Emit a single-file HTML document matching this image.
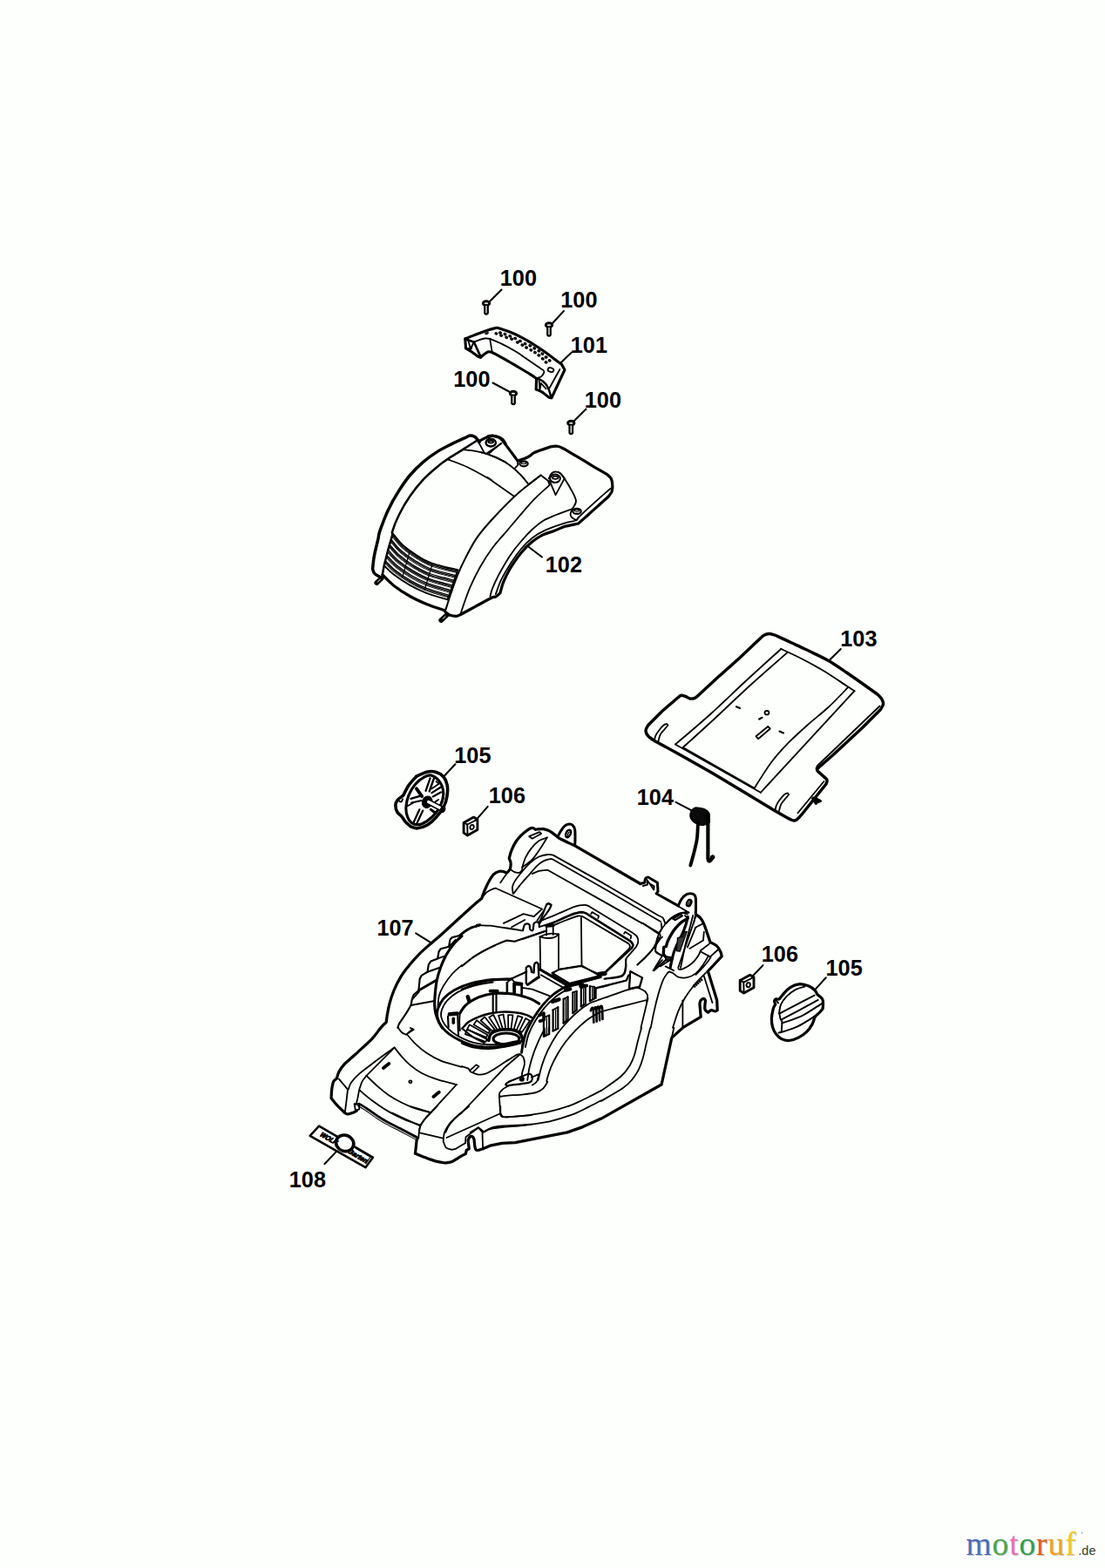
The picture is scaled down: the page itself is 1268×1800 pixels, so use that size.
<!DOCTYPE html>
<html><head><meta charset="utf-8"><title>Parts diagram</title>
<style>
html,body{margin:0;padding:0;background:#fdfffc;}
body{width:1268px;height:1800px;overflow:hidden;position:relative;font-family:"Liberation Sans",sans-serif;}
svg{position:absolute;left:0;top:0;display:block}
svg text.ws{font-family:"Liberation Serif",serif;font-weight:normal;font-size:37.5px;letter-spacing:0.9px}
svg text.wd{font-family:"Liberation Sans",sans-serif;font-weight:normal;font-size:14.5px;fill:#3c3c20}
svg text{font-family:"Liberation Sans",sans-serif;font-weight:bold;fill:#0a0a0a;stroke:none}
</style></head><body>
<svg width="1268" height="1800" viewBox="0 0 1268 1800" fill="none" stroke="#000" stroke-linecap="round" stroke-linejoin="round">
<!-- 00_labels.py -->
<text x="573.75" y="328.30" font-size="26.5" textLength="42.2" lengthAdjust="spacingAndGlyphs" style="fill:#000">100</text>
<text x="643.25" y="353.30" font-size="26.5" textLength="42.2" lengthAdjust="spacingAndGlyphs" style="fill:#000">100</text>
<text x="654.75" y="405.30" font-size="26.5" textLength="42.2" lengthAdjust="spacingAndGlyphs" style="fill:#000">101</text>
<text x="520.25" y="444.30" font-size="26.5" textLength="42.2" lengthAdjust="spacingAndGlyphs" style="fill:#000">100</text>
<text x="670.75" y="468.30" font-size="26.5" textLength="42.2" lengthAdjust="spacingAndGlyphs" style="fill:#000">100</text>
<text x="625.75" y="657.30" font-size="26.5" textLength="42.2" lengthAdjust="spacingAndGlyphs" style="fill:#000">102</text>
<text x="964.25" y="741.80" font-size="26.5" textLength="42.2" lengthAdjust="spacingAndGlyphs" style="fill:#000">103</text>
<text x="730.75" y="924.30" font-size="26.5" textLength="42.2" lengthAdjust="spacingAndGlyphs" style="fill:#000">104</text>
<text x="521.25" y="875.80" font-size="26.5" textLength="42.2" lengthAdjust="spacingAndGlyphs" style="fill:#000">105</text>
<text x="560.75" y="921.80" font-size="26.5" textLength="42.2" lengthAdjust="spacingAndGlyphs" style="fill:#000">106</text>
<text x="432.45" y="1074.40" font-size="26.5" textLength="42.2" lengthAdjust="spacingAndGlyphs" style="fill:#000">107</text>
<text x="873.75" y="1104.30" font-size="26.5" textLength="42.2" lengthAdjust="spacingAndGlyphs" style="fill:#000">106</text>
<text x="947.55" y="1120.40" font-size="26.5" textLength="42.2" lengthAdjust="spacingAndGlyphs" style="fill:#000">105</text>
<text x="331.75" y="1363.30" font-size="26.5" textLength="42.2" lengthAdjust="spacingAndGlyphs" style="fill:#000">108</text>
<!-- 01_handle.py -->
<ellipse cx="558.0" cy="348.2" rx="3.7" ry="2.4" stroke-width="2.9" fill="#e8e8e8"/>
<path d="M556.2 351.0V359.5Q558.0 361.7 559.8 359.5V351.0" stroke-width="2.2" fill="#e8e8e8"/>
<ellipse cx="630.0" cy="373.2" rx="3.7" ry="2.4" stroke-width="2.9" fill="#e8e8e8"/>
<path d="M628.2 376.0V384.5Q630.0 386.7 631.8 384.5V376.0" stroke-width="2.2" fill="#e8e8e8"/>
<ellipse cx="589.0" cy="451.7" rx="3.7" ry="2.4" stroke-width="2.9" fill="#e8e8e8"/>
<path d="M587.2 454.5V463.0Q589.0 465.2 590.8 463.0V454.5" stroke-width="2.2" fill="#e8e8e8"/>
<ellipse cx="655.3" cy="485.7" rx="3.7" ry="2.4" stroke-width="2.9" fill="#e8e8e8"/>
<path d="M653.5 488.5V497.0Q655.3 499.2 657.1 497.0V488.5" stroke-width="2.2" fill="#e8e8e8"/>
<path d="M575.5 332.5L561.0 347.0" stroke-width="2.04"/>
<path d="M647.0 357.0L634.0 371.0" stroke-width="2.04"/>
<path d="M565.5 439.5L585.0 450.0" stroke-width="2.04"/>
<path d="M672.5 469.5L659.0 483.0" stroke-width="2.04"/>
<path d="M656.0 404.5L644.0 416.0" stroke-width="2.04"/>
<path d="M622.0 639.5L606.2 627.5" stroke-width="2.04"/>
<path d="M964.8 745.0L951.4 758.2" stroke-width="2.04"/>
<path d="M775.5 920.8L793.2 930.2" stroke-width="2.04"/>
<path d="M522.4 877.3L509.4 891.2" stroke-width="2.04"/>
<path d="M559.7 925.9L547.5 939.8" stroke-width="2.04"/>
<path d="M477.2 1071.3L493.3 1081.4" stroke-width="2.04"/>
<path d="M875.5 1108.1L863.4 1120.7" stroke-width="2.04"/>
<path d="M947.8 1122.3L935.9 1135.4" stroke-width="2.04"/>
<path d="M372.4 1336.2L385.6 1322.4" stroke-width="2.04"/>
<path d="M533.8 388.9C535.5 388.3 539.9 386.4 543.9 384.9C547.9 383.4 553.7 381.2 557.8 379.8C561.9 378.5 566.0 377.0 568.5 376.6C571.1 376.1 570.3 376.2 572.9 376.9C575.6 377.6 580.5 379.3 584.3 380.7C588.1 382.2 591.9 383.9 595.7 385.8C599.4 387.7 603.2 389.8 607.0 392.1C610.8 394.3 614.6 396.8 618.4 399.3C622.2 401.8 626.4 404.8 629.7 407.2C633.1 409.7 636.1 412.1 638.6 413.9C641.0 415.7 643.3 417.3 644.2 417.9L648.0 424.5L632.9 456.8C632.3 456.6 631.3 456.9 629.5 455.8C627.7 454.7 624.5 451.6 622.2 450.1C619.8 448.7 616.4 447.5 615.2 447.0L615.6 434.4C614.4 433.6 611.6 431.6 608.3 429.6C605.0 427.5 600.1 424.6 595.7 422.0C591.2 419.4 586.4 416.4 581.8 413.8C577.2 411.2 570.8 407.8 567.9 406.2C565.0 404.6 564.7 404.6 564.1 404.3C563.5 404.2 561.7 403.4 560.3 403.8C559.0 404.2 557.4 405.5 555.9 406.6C554.4 407.7 552.2 409.7 551.5 410.4C551.0 410.2 550.2 410.3 548.3 409.1C546.5 407.9 542.5 404.6 540.1 403.1C537.8 401.5 535.4 400.4 534.5 399.9L533.8 388.9" stroke-width="3.12" fill="none"/>
<path d="M543.9 392.7C545.0 392.3 548.1 390.9 550.2 390.2C552.3 389.5 554.5 388.8 556.5 388.5C558.5 388.3 561.3 388.9 562.2 388.9C564.4 389.9 570.7 392.3 575.5 394.6C580.2 396.9 585.6 399.8 590.6 402.8C595.7 405.9 601.3 409.9 605.8 412.9C610.2 415.9 614.3 418.8 617.1 420.7C620.0 422.7 621.8 423.9 622.8 424.5C623.1 424.9 624.6 425.8 624.4 427.0C624.2 428.3 622.6 430.8 621.5 431.8C620.4 432.9 618.4 433.2 617.7 433.5" stroke-width="1.8" fill="none"/>
<path d="M562.2 388.9L564.7 404.3" stroke-width="1.8" fill="none"/>
<path d="M533.8 388.9L543.9 392.7L551.8 410.1" stroke-width="2.64" fill="none"/>
<path d="M537.4 391.2L539.9 400.3L543.3 393.7L540.4 400.3" stroke-width="1.86" fill="none"/>
<path d="M535.1 400.0L540.8 400.3" stroke-width="1.86" fill="none"/>
<path d="M615.6 434.6C616.3 434.8 617.9 434.6 619.6 435.6C621.4 436.6 624.3 438.5 625.9 440.4C627.6 442.3 628.6 444.3 629.7 447.0C630.8 449.6 632.0 454.9 632.5 456.4" stroke-width="2.4" fill="none"/>
<path d="M618.6 436.6L619.4 447.2L620.9 440.0L626.6 446.3" stroke-width="1.86" fill="none"/>
<path d="M642.4 424.0L629.5 447.2" stroke-width="1.8" fill="none"/>
<ellipse cx="632.0" cy="424.6" rx="3.4" ry="2.4" transform="rotate(15 632.0 424.6)" stroke-width="1.8" fill="none"/>
<ellipse cx="558.6" cy="382.6" rx="1.8" ry="0.8" transform="rotate(-18 558.6 382.6)" stroke-width="1.32" fill="none"/>
<ellipse cx="574.0" cy="382.0" rx="1.3" ry="1.0" transform="rotate(20 574.0 382.0)" stroke-width="1.5" fill="#9a9a9a"/>
<ellipse cx="579.5" cy="383.6" rx="1.3" ry="1.0" transform="rotate(20 579.5 383.6)" stroke-width="1.5" fill="#9a9a9a"/>
<ellipse cx="585.3" cy="385.8" rx="1.3" ry="1.0" transform="rotate(20 585.3 385.8)" stroke-width="1.5" fill="#9a9a9a"/>
<ellipse cx="591.2" cy="388.5" rx="1.3" ry="1.0" transform="rotate(20 591.2 388.5)" stroke-width="1.5" fill="#9a9a9a"/>
<ellipse cx="596.9" cy="391.5" rx="1.3" ry="1.0" transform="rotate(20 596.9 391.5)" stroke-width="1.5" fill="#9a9a9a"/>
<ellipse cx="602.6" cy="394.6" rx="1.3" ry="1.0" transform="rotate(20 602.6 394.6)" stroke-width="1.5" fill="#9a9a9a"/>
<ellipse cx="608.3" cy="396.8" rx="1.3" ry="1.0" transform="rotate(20 608.3 396.8)" stroke-width="1.5" fill="#9a9a9a"/>
<ellipse cx="613.3" cy="399.9" rx="1.3" ry="1.0" transform="rotate(20 613.3 399.9)" stroke-width="1.5" fill="#9a9a9a"/>
<ellipse cx="618.4" cy="402.8" rx="1.3" ry="1.0" transform="rotate(20 618.4 402.8)" stroke-width="1.5" fill="#9a9a9a"/>
<ellipse cx="622.4" cy="406.2" rx="1.3" ry="1.0" transform="rotate(20 622.4 406.2)" stroke-width="1.5" fill="#9a9a9a"/>
<ellipse cx="626.6" cy="410.0" rx="1.3" ry="1.0" transform="rotate(20 626.6 410.0)" stroke-width="1.5" fill="#9a9a9a"/>
<ellipse cx="630.7" cy="413.9" rx="1.3" ry="1.0" transform="rotate(20 630.7 413.9)" stroke-width="1.5" fill="#9a9a9a"/>
<ellipse cx="569.4" cy="382.9" rx="1.3" ry="1.0" transform="rotate(20 569.4 382.9)" stroke-width="1.5" fill="#9a9a9a"/>
<ellipse cx="575.1" cy="385.1" rx="1.3" ry="1.0" transform="rotate(20 575.1 385.1)" stroke-width="1.5" fill="#9a9a9a"/>
<ellipse cx="581.2" cy="387.3" rx="1.3" ry="1.0" transform="rotate(20 581.2 387.3)" stroke-width="1.5" fill="#9a9a9a"/>
<ellipse cx="587.1" cy="389.2" rx="1.3" ry="1.0" transform="rotate(20 587.1 389.2)" stroke-width="1.5" fill="#9a9a9a"/>
<ellipse cx="593.8" cy="393.0" rx="1.3" ry="1.0" transform="rotate(20 593.8 393.0)" stroke-width="1.5" fill="#9a9a9a"/>
<ellipse cx="599.4" cy="396.1" rx="1.3" ry="1.0" transform="rotate(20 599.4 396.1)" stroke-width="1.5" fill="#9a9a9a"/>
<ellipse cx="604.1" cy="399.0" rx="1.3" ry="1.0" transform="rotate(20 604.1 399.0)" stroke-width="1.5" fill="#9a9a9a"/>
<ellipse cx="609.3" cy="401.8" rx="1.3" ry="1.0" transform="rotate(20 609.3 401.8)" stroke-width="1.5" fill="#9a9a9a"/>
<ellipse cx="614.0" cy="404.6" rx="1.3" ry="1.0" transform="rotate(20 614.0 404.6)" stroke-width="1.5" fill="#9a9a9a"/>
<ellipse cx="618.4" cy="407.9" rx="1.3" ry="1.0" transform="rotate(20 618.4 407.9)" stroke-width="1.5" fill="#9a9a9a"/>
<ellipse cx="622.8" cy="411.9" rx="1.3" ry="1.0" transform="rotate(20 622.8 411.9)" stroke-width="1.5" fill="#9a9a9a"/>
<ellipse cx="626.6" cy="415.9" rx="1.3" ry="1.0" transform="rotate(20 626.6 415.9)" stroke-width="1.5" fill="#9a9a9a"/>
<!-- 02_hood.py -->
<path d="M550.0 507.7C549.5 507.0 548.4 505.0 547.4 503.9C546.5 502.8 545.7 501.7 544.3 501.1C542.9 500.5 541.0 499.8 539.2 500.1C537.5 500.3 537.0 501.0 533.6 502.6C530.1 504.2 523.7 506.9 518.4 509.6C513.2 512.2 507.5 514.9 502.0 518.4C496.6 521.9 490.9 525.9 485.6 530.4C480.4 534.9 475.1 540.1 470.5 545.5C465.8 551.0 462.1 556.5 457.9 563.2C453.6 569.9 448.9 578.1 445.2 585.9C441.6 593.7 437.7 604.4 435.8 609.9C433.9 615.4 434.9 614.3 433.9 618.9C432.8 623.6 430.5 632.2 429.5 637.9C428.4 643.5 427.9 650.5 427.6 653.0C427.9 653.8 428.2 656.5 429.5 658.0C430.8 659.6 434.4 661.4 435.4 662.1" stroke-width="3.48" fill="none"/>
<path d="M550.0 506.4C551.0 505.8 554.0 504.0 556.3 503.0C558.6 502.0 561.3 500.8 563.9 500.6C566.4 500.4 569.3 501.0 571.4 501.6C573.5 502.2 575.0 502.9 576.5 504.1C577.9 505.4 579.4 508.1 580.0 508.9" stroke-width="3.12" fill="none"/>
<path d="M546.8 506.0C544.2 507.7 536.6 512.6 531.0 516.1C525.5 519.7 518.4 523.8 513.4 527.2C508.3 530.6 505.4 532.8 500.8 536.7C496.1 540.6 490.7 545.1 485.6 550.6C480.6 556.0 475.1 562.8 470.5 569.5C465.8 576.2 461.2 584.2 457.9 591.0C454.5 597.7 451.5 606.0 450.3 609.9C449.0 613.7 451.1 610.3 450.3 613.9C449.4 617.5 446.8 625.7 445.2 631.5C443.7 637.4 441.9 644.5 440.8 649.2C439.8 653.9 439.2 657.8 438.9 659.6" stroke-width="2.52" fill="none"/>
<path d="M531.0 516.1C532.7 516.3 537.4 516.5 541.1 517.1C544.9 517.7 549.5 518.5 553.8 519.7C558.0 520.8 562.0 522.3 566.4 524.1C570.7 525.9 577.7 529.3 580.0 530.4" stroke-width="1.8" fill="none"/>
<path d="M547.7 504.9L555.6 519.7" stroke-width="1.8" fill="none"/>
<path d="M575.5 508.9L558.8 520.3" stroke-width="1.8" fill="none"/>
<ellipse cx="563.2" cy="508.5" rx="5.7" ry="4.2" transform="rotate(0 563.2 508.5)" stroke-width="1.92" fill="none"/>
<ellipse cx="563.2" cy="507.2" rx="2.9" ry="1.3" transform="rotate(0 563.2 507.2)" stroke-width="1.8" fill="none"/>
<path d="M560.0 500.7C560.8 500.6 562.9 499.9 565.0 500.1C567.2 500.3 570.7 501.2 572.6 502.1C574.5 503.0 575.8 504.8 576.4 505.4C577.9 507.4 582.3 513.2 585.2 517.1C588.2 521.1 592.6 527.1 594.1 529.1" stroke-width="3.12" fill="none"/>
<path d="M594.1 529.1C595.3 528.7 599.3 527.5 601.6 526.6C604.0 525.6 606.1 524.6 608.0 523.4C609.8 522.3 610.5 520.9 613.0 519.6C615.5 518.4 619.7 517.0 623.1 515.9C626.5 514.7 630.2 513.3 633.2 512.7C636.1 512.1 638.4 512.0 640.8 512.5C643.1 512.9 646.0 514.8 647.1 515.2C649.4 516.6 655.5 520.2 661.0 523.4C666.4 526.7 674.0 531.3 679.9 534.8C685.8 538.3 693.5 542.7 696.3 544.3C697.1 545.1 700.0 546.9 701.1 549.0C702.2 551.2 702.7 554.3 702.8 556.9C703.0 559.4 702.8 562.1 702.0 564.5C701.1 566.8 698.3 569.7 697.5 570.8C695.6 572.4 690.2 577.3 686.2 580.9C682.2 584.4 677.3 588.8 673.6 592.2C669.8 595.6 665.4 599.6 663.7 601.0C661.2 601.6 653.0 602.9 648.3 604.3C643.7 605.7 639.9 607.9 635.7 609.5C631.5 611.1 627.3 611.8 623.1 613.9C618.9 616.0 614.7 618.6 610.5 622.1C606.3 625.6 602.1 629.5 597.9 634.7C593.6 639.9 588.6 647.4 585.2 653.0C581.9 658.6 579.6 663.5 577.7 668.1C575.8 672.8 574.5 678.7 573.9 680.8C573.0 681.5 570.3 684.3 568.8 685.2C567.4 686.0 568.9 684.0 565.1 685.8C561.3 687.6 552.3 692.6 546.2 695.9C540.1 699.2 531.5 703.9 528.5 705.5C527.7 705.8 525.6 707.2 523.5 707.3C521.4 707.3 518.0 706.8 515.9 706.0C513.8 705.2 511.9 703.0 511.1 702.5" stroke-width="3.24" fill="none"/>
<path d="M700.7 560.7C698.3 562.8 691.1 568.9 686.2 573.3C681.2 577.7 674.9 583.5 671.0 587.2C667.1 590.8 664.2 593.7 662.8 595.0C662.5 595.4 663.6 596.5 661.0 597.5C658.3 598.5 653.0 598.9 647.1 600.8C641.2 602.6 631.7 605.8 625.6 608.6C619.5 611.4 615.1 614.1 610.5 617.7C605.8 621.3 602.1 625.2 597.9 630.3C593.6 635.3 589.0 642.1 585.2 648.0C581.5 653.8 577.9 659.9 575.1 665.6C572.4 671.3 569.9 679.3 568.8 682.0" stroke-width="1.8" fill="none"/>
<path d="M657.2 584.0C654.0 585.2 643.9 588.6 638.2 591.0C632.6 593.3 627.7 595.1 623.1 597.9C618.5 600.7 614.7 604.1 610.5 608.0C606.3 611.9 602.1 616.5 597.9 621.5C593.6 626.4 589.4 631.5 585.2 637.9C581.0 644.2 576.0 653.0 572.6 659.3C569.3 665.6 566.7 671.5 565.0 675.7C563.4 679.9 562.9 683.1 562.5 684.5" stroke-width="1.8" fill="none"/>
<ellipse cx="601.0" cy="532.3" rx="4.7" ry="3.0" transform="rotate(0 601.0 532.3)" stroke-width="2.16" fill="none"/>
<ellipse cx="601.0" cy="531.4" rx="2.8" ry="1.1" transform="rotate(0 601.0 531.4)" stroke-width="1.2" fill="none"/>
<ellipse cx="637.0" cy="549.3" rx="5.9" ry="4.7" transform="rotate(0 637.0 549.3)" stroke-width="2.04" fill="none"/>
<ellipse cx="637.2" cy="548.3" rx="3.4" ry="1.6" transform="rotate(0 637.2 548.3)" stroke-width="1.8" fill="none"/>
<path d="M630.0 549.3C630.6 548.3 631.8 544.6 633.2 543.2C634.6 541.9 636.6 541.4 638.2 541.5C639.9 541.5 641.7 542.3 643.3 543.6C644.9 544.9 647.0 548.4 647.7 549.3" stroke-width="2.16" fill="none"/>
<path d="M647.7 549.3L637.6 568.2L630.7 552.1" stroke-width="1.8" fill="none"/>
<path d="M647.7 549.3C648.9 551.2 652.4 556.5 654.6 560.7C656.8 564.9 660.5 570.7 660.9 574.5C661.4 578.4 657.8 582.1 657.2 583.6" stroke-width="1.86" fill="none"/>
<ellipse cx="662.0" cy="586.9" rx="4.7" ry="3.0" transform="rotate(0 662.0 586.9)" stroke-width="2.16" fill="none"/>
<ellipse cx="662.0" cy="586.0" rx="2.8" ry="1.1" transform="rotate(0 662.0 586.0)" stroke-width="1.2" fill="none"/>
<path d="M657.2 583.6C656.7 584.6 654.8 588.0 654.6 589.7C654.4 591.4 654.8 592.5 655.9 593.7C657.0 594.9 659.8 596.6 660.9 596.9C662.1 597.2 662.5 595.6 662.8 595.4" stroke-width="1.86" fill="none"/>
<ellipse cx="563.2" cy="507.9" rx="5.7" ry="4.3" transform="rotate(0 563.2 507.9)" stroke-width="1.92" fill="none"/>
<path d="M575.1 508.9L561.3 520.3" stroke-width="1.8" fill="none"/>
<path d="M552.4 519.3C553.7 519.7 556.6 520.3 560.0 521.5C563.4 522.8 568.4 524.5 572.6 526.6C576.8 528.7 581.0 531.0 585.2 534.2C589.4 537.3 594.3 541.8 597.9 545.5C601.4 549.2 605.2 554.5 606.7 556.2" stroke-width="1.8" fill="none"/>
<path d="M594.1 529.7L594.1 534.2L590.9 537.3" stroke-width="1.8" fill="none"/>
<path d="M606.7 556.2L620.6 545.5L628.8 551.8" stroke-width="1.86" fill="none"/>
<path d="M620.6 545.5C618.3 547.3 611.7 552.1 606.7 556.2C601.6 560.4 597.8 562.8 590.3 570.1C582.7 577.4 568.7 591.9 561.3 600.0C554.0 608.1 550.8 612.0 546.2 618.9C541.6 625.9 537.0 634.9 533.6 641.6C530.1 648.4 528.1 652.6 525.4 659.3C522.6 666.0 519.5 675.1 517.2 682.0C514.8 689.0 512.1 697.8 511.1 701.0" stroke-width="2.04" fill="none"/>
<path d="M513.4 527.2C517.4 528.8 528.9 532.7 537.4 536.7C545.8 540.7 560.1 549.2 563.9 551.2C567.6 553.2 555.6 545.5 560.0 548.7C564.4 551.8 585.2 566.6 590.3 570.1" stroke-width="1.8" fill="none"/>
<path d="M628.8 551.8L630.7 556.9C627.3 560.0 618.9 566.7 610.5 575.8C602.0 584.9 587.6 602.5 580.0 611.4C572.4 620.2 569.9 622.5 565.1 629.0C560.3 635.5 555.4 643.1 551.2 650.5C547.0 657.8 543.0 666.0 539.9 673.2C536.7 680.3 534.2 688.1 532.3 693.4C530.4 698.7 529.1 703.0 528.5 705.0" stroke-width="1.8" fill="none"/>
<path d="M437.7 664.0L432.2 669.1" stroke-width="5.57" fill="none"/>
<path d="M436.2 665.4L433.6 667.8" stroke-width="0.96" fill="none" stroke="#fdfffc"/>
<path d="M513.1 705.7L506.1 712.1" stroke-width="5.57" fill="none"/>
<path d="M511.1 707.5L508.1 710.3" stroke-width="0.96" fill="none" stroke="#fdfffc"/>
<path d="M438.9 659.9C441.0 661.9 446.3 667.8 451.5 671.9C456.8 676.0 464.2 681.0 470.5 684.5C476.8 688.1 482.8 690.7 489.4 693.4C496.0 696.0 506.4 699.4 509.8 700.6" stroke-width="3.24" fill="none"/>
<path d="M509.8 700.6L511.1 702.5" stroke-width="2.88" fill="none"/>
<path d="M450.9 612.6C452.7 614.7 457.3 621.2 461.6 625.2C466.0 629.2 471.1 633.0 476.8 636.6C482.5 640.2 487.6 643.7 495.7 646.7C503.8 649.6 520.4 653.0 525.4 654.3" stroke-width="1.92" fill="none"/>
<path d="M525.4 654.3C524.6 656.4 522.3 662.9 520.9 666.9C519.6 670.9 518.4 674.7 517.2 678.2C515.9 681.8 514.0 686.6 513.4 688.3" stroke-width="1.86" fill="none"/>
<path d="M440.8 649.2C442.6 650.9 446.6 655.5 451.5 659.3C456.5 663.1 464.2 668.3 470.5 671.9C476.8 675.5 482.3 678.0 489.4 680.8C496.6 683.5 509.4 687.1 513.4 688.3" stroke-width="1.92" fill="none"/>
<path d="M450.8 613.2C452.6 615.3 457.2 621.7 461.5 625.7C465.8 629.7 471.0 633.6 476.7 637.2C482.3 640.8 487.5 644.3 495.6 647.2C503.7 650.1 520.2 653.5 525.1 654.8" stroke-width="1.32" fill="none"/>
<path d="M450.3 614.8C452.1 616.8 456.7 623.3 461.0 627.3C465.4 631.3 470.7 635.2 476.4 638.7C482.1 642.3 487.3 645.8 495.3 648.7C503.4 651.6 519.7 655.0 524.6 656.3" stroke-width="1.32" fill="none"/>
<path d="M449.9 616.2C451.7 618.2 456.3 624.5 460.6 628.5C465.0 632.5 470.4 636.4 476.2 640.0C481.9 643.6 487.1 647.0 495.1 650.0C503.1 652.9 519.4 656.3 524.2 657.5" stroke-width="0.9" fill="none"/>
<path d="M449.0 619.3C450.8 621.3 455.3 627.6 459.7 631.5C464.2 635.5 469.8 639.5 475.6 643.0C481.5 646.6 486.6 650.1 494.6 653.0C502.5 655.9 518.4 659.3 523.2 660.6" stroke-width="1.32" fill="none"/>
<path d="M448.6 620.9C450.4 622.9 454.9 629.0 459.4 632.9C463.8 636.9 469.6 641.0 475.4 644.5C481.2 648.1 486.5 651.5 494.3 654.4C502.2 657.3 517.9 660.7 522.6 662.0" stroke-width="1.32" fill="none"/>
<path d="M448.3 622.2C450.1 624.2 454.5 630.2 459.0 634.2C463.5 638.1 469.3 642.4 475.1 645.9C481.0 649.5 486.2 652.8 494.1 655.6C501.9 658.5 517.5 662.0 522.2 663.2" stroke-width="0.9" fill="none"/>
<path d="M447.4 625.5C449.2 627.4 453.6 633.2 458.1 637.1C462.6 641.0 468.6 645.4 474.5 649.0C480.4 652.5 485.7 655.7 493.4 658.5C501.2 661.4 516.6 664.9 521.2 666.1" stroke-width="1.32" fill="none"/>
<path d="M447.0 627.0C448.8 628.9 453.2 634.7 457.7 638.6C462.3 642.5 468.3 646.9 474.3 650.5C480.2 654.0 485.4 657.2 493.2 660.1C500.9 662.9 516.1 666.4 520.7 667.6" stroke-width="1.32" fill="none"/>
<path d="M446.6 628.4C448.4 630.3 452.8 636.0 457.4 639.9C461.9 643.8 468.1 648.2 474.0 651.7C479.9 655.3 485.2 658.5 492.9 661.3C500.6 664.2 515.6 667.6 520.2 668.9" stroke-width="0.9" fill="none"/>
<path d="M445.7 631.5C447.5 633.4 451.8 639.0 456.5 642.9C461.1 646.8 467.5 651.3 473.5 654.9C479.5 658.5 484.8 661.5 492.4 664.4C500.0 667.2 514.7 670.7 519.2 671.9" stroke-width="1.32" fill="none"/>
<path d="M445.2 633.1C447.0 634.9 451.3 640.4 456.0 644.3C460.6 648.2 467.2 652.8 473.2 656.4C479.3 660.0 484.6 662.9 492.2 665.7C499.7 668.6 514.3 672.1 518.7 673.3" stroke-width="1.32" fill="none"/>
<path d="M444.9 634.4C446.6 636.3 450.9 641.7 455.6 645.6C460.3 649.4 466.9 654.1 473.0 657.7C479.1 661.2 484.4 664.2 491.9 667.0C499.5 669.8 513.8 673.3 518.2 674.6" stroke-width="0.9" fill="none"/>
<path d="M444.0 637.6C445.8 639.4 449.9 644.6 454.7 648.5C459.5 652.3 466.4 657.1 472.5 660.7C478.6 664.3 484.0 667.1 491.4 669.9C498.9 672.7 512.9 676.2 517.2 677.5" stroke-width="1.32" fill="none"/>
<path d="M443.6 639.2C445.4 641.0 449.5 646.1 454.3 650.0C459.1 653.8 466.1 658.6 472.2 662.2C478.4 665.8 483.8 668.6 491.2 671.4C498.6 674.2 512.4 677.7 516.7 679.0" stroke-width="1.32" fill="none"/>
<path d="M443.2 640.5C445.0 642.3 449.1 647.4 453.9 651.2C458.7 655.1 465.8 660.0 472.0 663.6C478.1 667.2 483.6 669.9 490.9 672.7C498.3 675.5 511.9 679.0 516.2 680.3" stroke-width="0.9" fill="none"/>
<path d="M442.3 643.7C444.1 645.4 448.2 650.4 453.1 654.3C457.9 658.1 465.3 663.0 471.5 666.6C477.7 670.2 483.1 672.9 490.4 675.7C497.7 678.5 511.0 682.0 515.1 683.3" stroke-width="1.32" fill="none"/>
<path d="M442.0 645.3C443.7 647.0 447.8 651.8 452.7 655.6C457.5 659.5 464.9 664.6 471.1 668.1C477.3 671.7 482.8 674.3 490.0 677.1C497.3 679.9 510.5 683.4 514.6 684.7" stroke-width="1.32" fill="none"/>
<path d="M441.6 646.7C443.4 648.4 447.4 653.1 452.3 656.9C457.2 660.7 464.7 665.8 471.0 669.4C477.2 673.0 482.7 675.6 489.9 678.4C497.1 681.1 510.2 684.7 514.3 685.9" stroke-width="0.9" fill="none"/>
<path d="M470.1 633.1L461.6 663.1" stroke-width="1.2" fill="none"/>
<path d="M496.1 647.7L487.1 677.2" stroke-width="1.2" fill="none"/>
<!-- 03_flap.py -->
<path d="M872.5 732.8C873.1 732.2 874.6 730.4 876.2 729.5C877.9 728.6 880.4 727.6 882.5 727.5C884.6 727.4 887.9 728.8 889.0 729.0C892.2 730.5 901.7 734.8 908.0 737.8C914.3 740.7 919.6 743.0 926.8 746.5C933.9 750.0 943.4 754.3 950.8 758.5C958.1 762.7 964.5 767.3 971.0 771.8C977.5 776.2 983.9 780.7 990.0 785.0C996.1 789.3 1004.6 795.4 1007.5 797.5C1008.2 798.4 1011.0 800.9 1012.0 802.8C1013.0 804.6 1013.8 806.5 1013.5 808.5C1013.2 810.5 1010.8 813.7 1010.2 814.8L990.0 835.0L955.0 867.5L939.5 881.0C939.2 881.6 937.2 883.2 937.8 884.5C938.2 885.8 941.7 888.2 942.5 889.0C943.5 890.0 947.8 893.2 948.8 895.0C949.7 896.8 948.1 899.2 948.0 900.0C946.7 901.7 944.7 904.2 940.0 910.0C935.3 915.8 924.3 929.8 920.0 935.0C915.7 940.2 915.2 940.0 914.2 941.0C913.3 941.1 912.8 943.1 908.8 941.5C904.7 939.9 893.1 933.0 890.0 931.2L855.0 910.0L817.5 887.5L780.0 866.2L752.5 851.2C751.0 850.2 745.7 847.1 743.8 845.0C741.8 842.9 741.0 840.8 741.0 838.8C741.0 836.7 743.3 833.5 743.8 832.5L760.0 816.2L778.0 800.8C778.6 800.3 780.3 798.5 781.8 798.2C783.2 798.0 785.1 798.9 786.8 799.5C788.4 800.1 790.1 801.7 791.8 802.0C793.4 802.3 795.3 802.0 796.8 801.5C798.2 801.0 799.9 799.4 800.5 799.0L823.2 778.0L848.5 755.5L872.5 732.8" stroke-width="3.48" fill="none"/>
<path d="M945.5 897.0L915.5 933.2" stroke-width="1.8" fill="none"/>
<path d="M750.8 851.5C751.0 850.5 751.2 847.3 752.0 845.2C752.8 843.2 754.2 841.1 755.8 839.0C757.3 836.9 759.9 833.8 761.5 832.5C763.1 831.2 764.6 831.2 765.2 831.0L766.5 832.5C765.9 833.2 764.2 835.2 762.8 837.0C761.3 838.8 759.0 840.8 757.8 843.2C756.5 845.7 755.7 850.1 755.2 851.5" stroke-width="1.8" fill="none"/>
<path d="M889.5 931.0C889.7 930.0 889.9 926.8 890.8 924.8C891.6 922.7 892.9 920.6 894.5 918.5C896.1 916.4 898.7 913.3 900.2 912.0C901.8 910.7 903.4 910.8 904.0 910.5L905.2 912.0C904.6 912.8 903.0 914.7 901.5 916.5C900.0 918.3 897.8 920.3 896.5 922.8C895.2 925.2 894.4 929.6 894.0 931.0" stroke-width="1.8" fill="none"/>
<path d="M896.0 744.8C900.1 746.7 912.2 752.2 920.5 756.5C928.8 760.8 937.3 765.4 945.8 770.5C954.2 775.6 965.2 783.2 971.0 787.0C976.8 790.8 978.9 792.2 980.5 793.2" stroke-width="1.86" fill="none"/>
<path d="M896.2 745.0C889.4 751.2 868.5 770.0 855.0 782.5C841.5 795.0 828.3 808.0 815.0 820.0C801.7 832.0 781.7 848.8 775.0 854.5" stroke-width="1.86" fill="none"/>
<path d="M903.0 749.5C895.8 755.8 873.8 774.9 860.0 787.5C846.2 800.1 832.7 813.2 820.0 825.0C807.3 836.8 789.8 852.5 783.8 858.0" stroke-width="1.8" fill="none"/>
<path d="M775.0 854.5L872.8 909.8" stroke-width="1.86" fill="none"/>
<path d="M783.8 858.0L865.8 904.8" stroke-width="1.8" fill="none"/>
<path d="M980.5 793.2L872.8 909.8" stroke-width="1.86" fill="none"/>
<path d="M973.0 789.2C969.3 793.0 958.9 804.2 951.0 811.5C943.1 818.8 933.5 826.0 925.8 833.0C918.0 840.0 910.8 846.5 904.2 853.2C897.7 860.0 891.8 866.5 886.5 873.2C881.2 880.0 876.2 888.2 872.8 893.5C869.3 898.8 866.9 902.9 865.8 904.8" stroke-width="1.8" fill="none"/>
<path d="M845.0 811.2L849.0 813.0" stroke-width="2.16" fill="none"/>
<path d="M871.2 825.5L874.5 823.8" stroke-width="2.16" fill="none"/>
<path d="M894.5 839.5L899.0 841.5" stroke-width="2.16" fill="none"/>
<ellipse cx="880.0" cy="818.2" rx="2.5" ry="2.2" transform="rotate(0 880.0 818.2)" stroke-width="1.8" fill="none"/>
<path d="M867.5 845.2L881.2 834.0L883.8 836.5L870.0 848.2L867.5 845.2" stroke-width="1.8" fill="none"/>
<path d="M933.0 916.5L936.5 922.0" stroke-width="3.84" fill="none"/>
<path d="M936.0 916.5L941.5 919.5" stroke-width="3.12" fill="none"/>
<path d="M934.5 918.5L939.5 920.5" stroke-width="3.12" fill="none"/>
<path d="M1009.5 810.5L938.0 879.0C937.8 879.6 936.4 881.5 936.5 882.5C936.6 883.5 938.2 884.6 938.5 885.0" stroke-width="1.8" fill="none"/>
<!-- 04_spring.py -->
<path d="M801.0 927.2C802.1 927.4 805.4 927.7 807.3 928.4C809.2 929.1 811.3 930.5 812.4 931.5C813.6 932.6 814.0 934.2 814.3 934.7L814.3 944.2C813.1 944.7 809.5 946.9 807.3 947.3C805.1 947.7 803.1 947.3 801.0 946.5C798.9 945.7 796.2 944.2 794.7 942.6C793.2 941.0 792.2 939.0 791.9 937.1C791.7 935.1 792.3 932.4 793.1 930.8C794.0 929.1 795.8 927.8 797.1 927.2C798.4 926.6 800.4 927.2 801.0 927.2" stroke-width="1.2" fill="#0a0a0a"/>
<path d="M801.0 944.2C800.8 947.3 800.6 957.3 799.8 963.1C799.0 968.9 797.5 973.8 796.3 978.9C795.0 983.9 793.0 991.0 792.3 993.5" stroke-width="3.85" fill="none"/>
<path d="M812.4 934.7L812.4 985.6C812.6 986.0 812.7 988.0 813.2 988.3C813.8 988.7 814.8 988.3 815.6 987.5C816.4 986.8 817.6 984.3 818.0 983.6" stroke-width="4.18" fill="none"/>
<ellipse cx="817.6" cy="984.1" rx="2.4" ry="2.4" transform="rotate(0 817.6 984.1)" stroke-width="0.6" fill="#000"/>
<!-- 05_caps.py -->
<path d="M477.9 891.2C480.0 890.3 486.7 886.8 490.5 886.0C494.3 885.2 497.5 885.5 500.6 886.4C503.6 887.3 506.7 888.9 508.8 891.5C510.9 894.0 512.5 897.8 513.2 901.5C513.9 905.3 513.6 910.2 512.9 914.2C512.3 918.2 511.5 921.5 509.4 925.5C507.3 929.5 503.7 934.6 500.6 938.1C497.4 941.7 494.0 944.9 490.5 947.0C486.9 949.1 482.3 950.4 479.1 950.8C476.0 951.1 473.9 950.1 471.5 948.9C469.2 947.6 466.3 944.3 465.2 943.4C464.5 942.4 462.4 939.0 460.8 937.1C459.2 935.2 456.9 934.2 455.8 932.1C454.6 929.9 453.8 926.6 453.9 924.3C454.0 921.9 454.9 920.1 456.4 918.2C457.9 916.4 461.7 914.0 462.7 913.2C463.8 911.2 466.5 905.2 469.0 901.5C471.5 897.9 476.4 892.9 477.9 891.2" stroke-width="3.6" fill="none"/>
<path d="M495.5 890.2C498.7 891.3 503.4 895.4 505.6 899.0C507.8 902.6 508.8 907.4 508.8 911.6C508.8 915.8 507.6 920.1 505.6 924.3C503.6 928.5 500.4 933.3 496.8 936.9C493.2 940.5 487.9 944.2 484.2 945.7C480.4 947.2 476.8 947.0 474.1 945.7C471.3 944.4 469.1 941.3 467.8 938.1C466.4 935.0 465.7 931.0 465.9 926.8C466.1 922.6 467.2 917.3 469.0 912.9C470.8 908.5 473.6 903.8 476.6 900.3C479.5 896.8 483.5 893.8 486.7 892.1C489.8 890.4 492.4 889.0 495.5 890.2Z" stroke-width="3.12" fill="none"/>
<path d="M456.4 918.6C457.0 918.9 459.2 920.7 460.2 920.5C461.1 920.3 461.8 917.8 462.1 917.3" stroke-width="1.92" fill="none"/>
<path d="M493.6 893.3L488.6 907.9" stroke-width="2.28" fill="none"/>
<path d="M497.8 894.0L492.7 908.5" stroke-width="2.28" fill="none"/>
<path d="M481.4 929.3L474.4 944.4" stroke-width="2.28" fill="none"/>
<path d="M485.2 930.6L478.2 945.5" stroke-width="2.28" fill="none"/>
<path d="M471.5 916.9L484.2 913.2" stroke-width="2.28" fill="none"/>
<path d="M472.2 921.5L483.5 919.0" stroke-width="2.28" fill="none"/>
<path d="M495.5 910.1L505.6 903.8" stroke-width="2.28" fill="none"/>
<path d="M496.8 914.4L505.9 909.4" stroke-width="2.28" fill="none"/>
<path d="M477.9 905.3L484.2 914.2" stroke-width="3.84" fill="none"/>
<path d="M500.6 897.1L503.7 899.7L495.5 905.3" stroke-width="1.86" fill="none"/>
<path d="M467.1 925.5L474.1 921.7" stroke-width="1.86" fill="none"/>
<path d="M503.1 917.9L499.3 920.5" stroke-width="1.86" fill="none"/>
<ellipse cx="490.2" cy="920.7" rx="5.6" ry="6.8" transform="rotate(20 490.2 920.7)" stroke-width="1.2" fill="#000"/>
<path d="M491.7 920.5L505.6 927.8" stroke-width="6.51" fill="none"/>
<path d="M491.7 920.5L505.6 927.8" stroke-width="3.36" fill="none" stroke="#fdfffc"/>
<ellipse cx="508.1" cy="929.1" rx="1.8" ry="2.8" transform="rotate(20 508.1 929.1)" stroke-width="2.64" fill="none"/>
<path d="M494.3 929.3L499.3 933.1" stroke-width="3.12" fill="none"/>
<path d="M532.1 944.4L543.5 938.1L547.9 940.7L547.9 952.6L536.5 959.0L532.1 956.1L532.1 944.4" stroke-width="2.88" fill="none"/>
<path d="M532.1 944.4L536.2 946.5L547.5 940.9" stroke-width="1.92" fill="none"/>
<path d="M536.2 946.5L536.5 958.7" stroke-width="1.92" fill="none"/>
<ellipse cx="541.6" cy="949.5" rx="2.1" ry="2.6" transform="rotate(15 541.6 949.5)" stroke-width="1.92" fill="none"/>
<path d="M849.2 1125.5L860.6 1119.2L865.0 1121.8L865.0 1133.7L853.6 1140.1L849.2 1137.2L849.2 1125.5" stroke-width="2.88" fill="none"/>
<path d="M849.2 1125.5L853.3 1127.6L864.6 1122.0" stroke-width="1.92" fill="none"/>
<path d="M853.3 1127.6L853.6 1139.8" stroke-width="1.92" fill="none"/>
<ellipse cx="858.7" cy="1130.6" rx="2.1" ry="2.6" transform="rotate(15 858.7 1130.6)" stroke-width="1.92" fill="none"/>
<path d="M918.2 1129.6C919.9 1130.0 925.5 1130.8 928.3 1132.1C931.2 1133.3 933.7 1135.6 935.3 1137.1C936.8 1138.7 937.4 1140.8 937.8 1141.5C938.7 1142.4 942.4 1144.9 943.5 1146.6C944.6 1148.3 944.4 1149.7 944.5 1151.6C944.6 1153.5 944.2 1156.9 944.1 1157.9C943.4 1158.8 941.2 1161.4 939.7 1163.0C938.2 1164.6 936.5 1165.3 935.3 1167.4C934.0 1169.5 933.7 1172.8 932.1 1175.6C930.5 1178.5 928.5 1181.8 925.8 1184.4C923.1 1187.1 919.1 1189.7 915.7 1191.4C912.3 1193.1 908.8 1194.3 905.6 1194.5C902.5 1194.8 899.3 1193.9 896.8 1192.6C894.3 1191.4 892.2 1189.2 890.5 1187.0C888.8 1184.8 887.5 1182.3 886.7 1179.4C885.8 1176.5 885.3 1172.9 885.4 1169.3C885.5 1165.7 886.6 1160.7 887.3 1157.9C888.1 1155.2 889.4 1153.7 889.8 1152.9C889.6 1152.3 888.5 1150.1 888.6 1149.1C888.7 1148.1 889.6 1147.2 890.5 1146.8C891.3 1146.5 893.1 1147.2 893.6 1147.2C893.9 1146.9 893.9 1147.1 895.5 1145.3C897.1 1143.5 900.6 1138.8 903.1 1136.5C905.6 1134.2 908.1 1132.6 910.7 1131.5C913.2 1130.3 917.0 1129.9 918.2 1129.6" stroke-width="3.24" fill="none"/>
<path d="M894.0 1163.2C894.4 1161.5 894.6 1156.2 896.2 1152.9C897.7 1149.6 900.3 1146.3 903.1 1143.4C905.9 1140.6 909.8 1137.7 913.2 1135.9C916.6 1134.1 921.6 1133.2 923.3 1132.7" stroke-width="1.92" fill="none"/>
<path d="M894.3 1163.6L915.7 1152.3L934.6 1142.6" stroke-width="1.92" fill="none"/>
<path d="M896.8 1170.3L918.2 1159.2L938.7 1147.9" stroke-width="1.92" fill="none"/>
<path d="M897.4 1174.6C901.3 1173.1 913.2 1169.5 920.8 1165.8C928.3 1162.1 938.8 1154.5 942.5 1152.3" stroke-width="1.92" fill="none"/>
<path d="M895.5 1185.3C898.9 1184.1 909.0 1181.3 915.7 1178.1C922.4 1174.9 932.3 1168.1 935.6 1166.2" stroke-width="1.92" fill="none"/>
<path d="M894.3 1163.6L895.5 1169.3L897.5 1173.3L896.8 1184.4L893.6 1185.7" stroke-width="1.92" fill="none"/>
<path d="M890.5 1147.9L893.0 1151.6" stroke-width="1.86" fill="none"/>
<!-- 06_deck_outer.py -->
<path d="M614.5 952.4C613.9 952.0 612.2 950.3 610.8 950.4C609.3 950.4 607.8 951.2 605.7 952.6C603.6 954.0 600.5 956.6 598.1 958.9C595.8 961.2 593.7 963.6 591.8 966.5C589.9 969.4 588.0 973.4 586.8 976.6C585.5 979.7 584.7 984.0 584.3 985.4C584.6 986.3 585.9 988.5 586.1 990.5C586.4 992.5 585.6 996.3 585.5 997.4C584.9 998.1 583.0 1001.3 581.7 1001.8C580.5 1002.4 579.4 1000.8 578.0 1000.6C576.5 1000.3 574.8 999.8 572.9 1000.3C571.0 1000.8 568.7 1001.6 566.6 1003.7C564.5 1005.9 562.2 1009.7 560.3 1013.2C558.4 1016.7 556.5 1021.5 555.2 1024.5C554.0 1027.6 553.1 1030.3 552.7 1031.5C550.8 1033.1 548.7 1034.4 541.4 1041.0C534.0 1047.5 516.5 1063.8 508.8 1070.7C501.1 1077.7 499.5 1078.6 494.9 1082.7C490.3 1086.8 485.2 1091.1 481.0 1095.3C476.8 1099.5 473.3 1103.5 469.7 1108.0C466.1 1112.4 462.5 1117.0 459.6 1121.8C456.6 1126.7 454.1 1131.9 452.0 1137.0C449.9 1142.0 448.2 1147.5 447.0 1152.1C445.7 1156.7 445.1 1161.2 444.4 1164.7C443.8 1168.3 443.4 1172.1 443.2 1173.6C442.1 1174.6 439.6 1176.7 436.9 1179.9C434.1 1183.0 431.6 1187.6 426.8 1192.6C421.9 1197.7 413.1 1205.4 407.9 1210.3C402.6 1215.1 398.4 1218.3 395.2 1221.6C392.1 1225.0 390.4 1227.7 388.9 1230.5C387.5 1233.2 386.8 1236.8 386.4 1238.0C385.8 1238.7 383.6 1239.7 382.6 1241.8C381.7 1243.9 381.2 1247.5 380.7 1250.7C380.3 1253.8 380.2 1259.1 380.1 1260.8C381.1 1262.0 383.9 1265.6 386.4 1268.3C388.9 1271.1 393.8 1275.7 395.2 1277.2C395.9 1277.5 397.3 1279.0 399.0 1279.0C400.7 1279.0 403.6 1277.8 405.3 1277.2C407.0 1276.5 408.5 1275.6 409.1 1275.3" stroke-width="3.24" fill="none"/>
<path d="M615.8 952.0C617.1 951.9 620.9 951.3 623.4 951.6C625.9 952.0 628.2 952.6 631.0 954.1C633.7 955.7 638.3 959.7 639.8 960.8C640.4 961.2 640.2 961.7 643.6 963.3C646.9 965.0 657.0 969.6 659.7 970.9L734.8 1014.5" stroke-width="3.24" fill="none"/>
<path d="M639.8 960.8C640.4 959.7 642.2 956.0 643.6 953.9C644.9 951.8 646.4 949.5 648.0 948.2C649.6 946.9 651.5 946.2 653.0 946.1C654.6 946.0 656.3 946.5 657.4 947.6C658.6 948.7 659.3 950.3 659.7 952.6C660.1 954.9 660.0 958.5 660.0 961.5C660.0 964.4 659.8 968.8 659.7 970.3" stroke-width="3.0" fill="none"/>
<ellipse cx="652.1" cy="957.0" rx="2.6" ry="4.5" transform="rotate(25 652.1 957.0)" stroke-width="2.4" fill="none"/>
<ellipse cx="653.0" cy="957.7" rx="1.3" ry="3.0" transform="rotate(25 653.0 957.7)" stroke-width="1.32" fill="none"/>
<path d="M734.8 1014.5L739.8 1013.2C739.9 1012.5 739.8 1009.8 740.5 1008.8C741.1 1007.7 742.6 1006.9 743.6 1006.9C744.7 1006.9 746.3 1008.5 746.8 1008.8L754.4 1013.2L755.0 1023.3L753.1 1025.8L778.3 1039.9" stroke-width="3.0" fill="none"/>
<path d="M745.5 1014.4L750.6 1017.2L750.3 1021.4L742.4 1010.0L743.0 1015.7L737.9 1017.0" stroke-width="1.86" fill="none"/>
<path d="M778.3 1039.7C779.0 1038.4 780.6 1034.2 782.1 1032.1C783.6 1030.0 785.5 1028.1 787.2 1027.1C788.8 1026.0 790.6 1025.8 792.2 1025.8C793.8 1025.8 795.6 1026.2 796.6 1027.1C797.6 1027.9 797.9 1028.5 798.3 1030.8C798.6 1033.2 798.5 1037.8 798.5 1041.0C798.5 1044.1 798.3 1048.3 798.3 1049.8" stroke-width="3.0" fill="none"/>
<ellipse cx="790.7" cy="1036.5" rx="2.3" ry="3.9" transform="rotate(25 790.7 1036.5)" stroke-width="2.4" fill="none"/>
<ellipse cx="791.5" cy="1037.2" rx="1.0" ry="2.5" transform="rotate(25 791.5 1037.2)" stroke-width="1.2" fill="none"/>
<path d="M778.3 1040.3L790.3 1047.5" stroke-width="1.86" fill="none"/>
<path d="M798.3 1049.8C799.1 1050.4 802.0 1051.9 803.6 1053.6C805.1 1055.2 806.1 1057.1 807.4 1059.9C808.6 1062.6 809.9 1066.5 811.1 1070.1C812.4 1073.7 814.3 1079.6 814.9 1081.5C816.2 1082.2 820.5 1084.0 822.5 1085.9C824.5 1087.8 826.0 1090.8 826.9 1092.8C827.9 1094.8 828.0 1097.0 828.2 1097.8L811.8 1115.5" stroke-width="3.24" fill="none"/>
<path d="M813.0 1116.8L822.7 1148.3L823.2 1159.7C822.8 1159.9 821.8 1161.0 820.6 1161.0C819.4 1161.0 817.5 1159.5 816.2 1159.7C814.8 1159.9 813.0 1161.8 812.4 1162.2C811.8 1161.6 809.3 1160.7 808.9 1158.4C808.4 1156.1 809.4 1150.0 809.5 1148.3C809.2 1148.0 808.5 1146.4 807.6 1146.4C806.7 1146.4 805.0 1147.4 804.2 1148.3C803.4 1149.3 803.1 1151.5 802.9 1152.1L804.2 1167.3L784.0 1179.4L770.8 1191.4L759.1 1245.0L690.0 1284.1L668.8 1293.6L651.1 1299.9L591.3 1311.6L576.2 1312.3L563.6 1314.8L554.7 1318.6C553.6 1318.9 549.4 1320.6 547.8 1320.5C546.2 1320.4 545.9 1320.1 545.3 1318.0C544.6 1315.8 544.2 1309.5 544.0 1307.8C543.7 1307.3 543.0 1305.1 542.1 1304.7C541.3 1304.3 539.8 1304.6 539.0 1305.3C538.1 1306.1 537.4 1308.5 537.1 1309.1L538.3 1318.6L535.2 1320.5L534.5 1324.3C533.1 1325.1 528.4 1327.7 525.7 1329.3C523.0 1330.9 520.7 1332.8 518.1 1333.7C515.6 1334.7 511.8 1334.8 510.6 1335.0C508.9 1334.7 504.3 1334.1 500.5 1333.1C496.7 1332.0 491.8 1330.2 487.9 1328.7C483.9 1327.2 478.4 1325.0 476.5 1324.3L478.4 1306.6" stroke-width="3.24" fill="none"/>
<path d="M807.4 1119.3L817.4 1151.1" stroke-width="1.8" fill="none"/>
<path d="M412.3 1268.3C413.6 1269.2 417.0 1271.1 420.5 1273.4C423.9 1275.7 428.9 1279.5 433.1 1282.2C437.3 1284.9 441.5 1287.5 445.7 1289.8C449.9 1292.1 456.2 1295.0 458.3 1296.1L478.4 1306.6" stroke-width="4.62" fill="none"/>
<path d="M413.5 1269.8C414.7 1270.6 417.2 1272.2 420.5 1274.4C423.7 1276.6 428.9 1280.5 433.1 1283.2C437.3 1286.0 441.5 1288.5 445.7 1290.8C449.9 1293.1 456.2 1296.0 458.3 1297.1L477.1 1307.2" stroke-width="1.08" fill="none" stroke="#c8c8c8"/>
<path d="M406.6 1267.1L411.6 1267.1L412.3 1273.4L407.9 1274.9L406.6 1267.1" stroke-width="1.8" fill="none"/>
<!-- 07_deck_inner.py -->
<path d="M607.2 960.2L619.0 955.1L621.1 957.0L610.8 962.7L607.2 960.2" stroke-width="1.8" fill="none"/>
<path d="M627.8 961.5C626.2 962.1 621.4 963.1 618.3 965.2C615.3 967.3 612.0 970.9 609.5 974.1C607.0 977.2 604.9 980.6 603.2 984.2C601.5 987.7 600.0 993.6 599.4 995.5" stroke-width="1.8" fill="none"/>
<path d="M627.8 961.5C626.6 963.3 623.7 968.6 620.9 972.8C618.0 977.0 614.3 982.9 610.8 986.7C607.2 990.5 601.3 994.0 599.4 995.5" stroke-width="1.8" fill="none"/>
<path d="M585.5 998.0C586.4 998.6 588.9 1000.6 590.6 1001.2C592.3 1001.8 594.2 1002.1 595.6 1001.8C597.0 1001.5 598.1 1000.4 598.8 999.3C599.4 998.3 599.3 996.2 599.4 995.5" stroke-width="1.8" fill="none"/>
<path d="M581.7 1002.5L574.2 1013.2" stroke-width="1.8" fill="none"/>
<path d="M569.1 1019.7L622.1 1043.5L612.6 1052.1" stroke-width="1.8" fill="none"/>
<path d="M552.7 1031.1C553.8 1029.9 556.7 1025.7 559.0 1023.9C561.3 1022.1 564.9 1020.8 566.6 1020.1C568.3 1019.4 568.7 1019.8 569.1 1019.7" stroke-width="1.8" fill="none"/>
<path d="M612.6 1052.1L600.7 1049.1L577.9 1059.9" stroke-width="1.8" fill="none"/>
<path d="M618.3 1059.9C619.2 1058.0 621.9 1052.2 623.4 1048.5C624.8 1044.8 626.5 1039.6 627.2 1037.8C627.6 1037.6 628.7 1036.8 629.7 1036.9C630.6 1037.1 632.3 1038.4 632.8 1038.7C632.3 1039.7 631.3 1042.3 629.7 1044.7C628.1 1047.2 625.1 1051.0 623.4 1053.6C621.7 1056.1 620.2 1058.8 619.6 1059.9" stroke-width="1.8" fill="none"/>
<path d="M588.7 1025.8C588.6 1024.5 587.7 1020.5 588.0 1018.2C588.4 1015.9 588.9 1014.7 590.6 1011.9C592.3 1009.2 595.2 1005.4 598.1 1001.8C601.1 998.3 604.9 993.5 608.2 990.5C611.6 987.4 615.0 985.1 618.3 983.5C621.7 982.0 625.7 981.3 628.4 981.0C631.2 980.7 633.7 981.5 634.7 981.6L690.0 1012.6L755.6 1051.0C756.5 1051.5 759.4 1052.1 760.7 1053.6C761.9 1055.0 762.8 1058.8 763.2 1059.9" stroke-width="1.8" fill="none"/>
<path d="M589.3 1025.8C590.8 1023.9 595.0 1018.2 598.1 1014.5C601.3 1010.7 605.3 1006.5 608.2 1003.1C611.2 999.7 613.3 996.7 615.8 994.3C618.3 991.8 620.9 989.9 623.4 988.6C625.9 987.2 629.1 986.4 631.0 986.1C632.8 985.7 634.1 986.6 634.7 986.7L690.0 1018.2L758.1 1058.0" stroke-width="1.8" fill="none"/>
<path d="M610.8 1003.1C612.0 1002.6 615.4 1000.7 618.3 999.9C621.3 999.2 626.7 998.9 628.4 998.7L690.0 1033.4L736.7 1059.9" stroke-width="1.8" fill="none"/>
<path d="M764.4 1059.9C765.5 1058.8 768.4 1055.2 770.8 1053.6C773.1 1051.9 775.8 1050.8 778.3 1049.8C780.9 1048.7 783.9 1047.6 785.9 1047.3C787.9 1046.9 789.6 1047.5 790.3 1047.5" stroke-width="2.16" fill="none"/>
<path d="M772.0 1054.8L780.9 1049.8L782.7 1051.3L774.5 1056.3L772.0 1054.8" stroke-width="1.8" fill="none"/>
<path d="M785.9 1051.0L789.7 1054.2" stroke-width="1.8" fill="none"/>
<path d="M796.0 1059.9L798.1 1050.4" stroke-width="1.8" fill="none"/>
<path d="M530.0 1073.2L518.3 1076.4L516.4 1078.9L515.1 1086.8L505.6 1089.3L503.5 1092.6L502.2 1100.4L494.3 1103.5L491.8 1107.3L490.5 1115.8L483.6 1119.9L481.7 1123.7L480.4 1137.0L474.7 1142.0L472.8 1147.1L471.6 1154.0" stroke-width="2.16" fill="none"/>
<path d="M515.1 1086.8L522.7 1078.9" stroke-width="1.8" fill="none"/>
<path d="M502.2 1100.4L509.4 1097.9" stroke-width="1.8" fill="none"/>
<path d="M490.5 1115.8L504.0 1111.1" stroke-width="2.16" fill="none"/>
<path d="M480.4 1137.0L500.2 1125.6" stroke-width="2.88" fill="none"/>
<path d="M471.6 1154.0L498.7 1149.0" stroke-width="1.8" fill="none"/>
<path d="M481.0 1138.5L473.2 1147.1" stroke-width="1.8" fill="none"/>
<path d="M530.0 1074.5C528.6 1075.9 524.3 1079.2 521.4 1082.7C518.5 1086.2 515.2 1090.7 512.6 1095.3C510.0 1100.0 507.5 1105.4 505.6 1110.5C503.8 1115.5 502.3 1120.6 501.2 1125.6C500.2 1130.7 499.8 1136.1 499.3 1140.8C498.9 1145.4 498.6 1149.6 498.7 1153.4C498.8 1157.2 499.1 1160.1 500.0 1163.5C500.8 1166.8 502.5 1170.8 503.8 1173.6C505.0 1176.3 506.9 1178.8 507.5 1179.9" stroke-width="3.12" fill="none"/>
<path d="M530.0 1107.9C528.1 1109.6 522.4 1114.0 518.9 1118.0C515.4 1122.0 511.3 1127.7 508.8 1131.9C506.3 1136.1 504.8 1139.3 503.8 1143.3C502.7 1147.3 502.7 1153.8 502.5 1155.9" stroke-width="1.8" fill="none"/>
<path d="M471.6 1154.0C470.6 1155.6 468.1 1160.0 465.9 1163.5C463.7 1166.9 459.9 1172.1 458.3 1174.8C456.8 1177.6 456.8 1179.0 456.4 1179.9" stroke-width="2.16" fill="none"/>
<!-- 08_deck_center.py -->
<path d="M620.2 1057.2C623.8 1055.8 635.1 1051.1 641.6 1048.4C648.2 1045.7 654.5 1042.4 659.3 1040.8C664.1 1039.2 667.9 1039.0 670.7 1038.9C673.4 1038.8 674.9 1040.0 675.7 1040.2L726.2 1071.1C727.0 1071.8 730.2 1073.7 731.2 1075.5C732.2 1077.3 732.5 1079.9 732.2 1081.8C732.0 1083.7 730.3 1086.0 730.0 1086.9L718.6 1100.1C718.4 1101.9 718.4 1107.6 717.6 1110.9C716.8 1114.1 717.6 1117.5 713.6 1119.7C709.5 1121.8 696.7 1123.0 693.4 1123.7" stroke-width="1.8" fill="none"/>
<path d="M628.4 1062.3C630.0 1061.5 634.2 1059.5 637.9 1057.9C641.5 1056.2 646.7 1053.8 650.5 1052.2C654.3 1050.6 657.6 1049.2 660.6 1048.4C663.5 1047.5 666.0 1047.1 668.1 1047.1C670.2 1047.2 672.3 1048.5 673.2 1048.8L723.7 1080.6C724.1 1081.2 726.2 1083.3 726.4 1084.6C726.6 1085.9 725.2 1087.8 724.9 1088.4L693.4 1117.4L688.3 1119.9" stroke-width="2.64" fill="none"/>
<path d="M636.6 1061.6C638.9 1060.7 646.1 1057.6 650.5 1056.0C654.9 1054.3 660.0 1052.2 663.1 1051.5C666.1 1050.9 667.8 1052.1 668.8 1052.2L721.1 1083.1C721.5 1083.6 723.0 1085.1 723.0 1086.2C723.0 1087.4 721.5 1089.4 721.1 1090.0L695.9 1114.3" stroke-width="1.86" fill="none"/>
<path d="M678.2 1049.0L679.5 1047.1L687.1 1051.5L686.4 1054.1" stroke-width="1.8" fill="none"/>
<path d="M716.1 1071.7L717.4 1069.8L724.3 1074.3L723.7 1077.4" stroke-width="1.8" fill="none"/>
<path d="M666.9 1053.4L667.5 1108.3L687.1 1119.7" stroke-width="1.8" fill="none"/>
<path d="M667.5 1108.3L641.6 1112.7L634.1 1117.2" stroke-width="1.8" fill="none"/>
<path d="M619.6 1075.5L620.2 1112.7L651.7 1129.8" stroke-width="1.8" fill="none"/>
<path d="M641.0 1072.4L641.0 1112.7" stroke-width="1.8" fill="none"/>
<path d="M619.6 1075.5C620.5 1075.1 623.0 1073.6 625.2 1073.0C627.4 1072.4 630.2 1071.8 632.8 1071.7C635.4 1071.6 639.6 1072.3 641.0 1072.4" stroke-width="1.8" fill="none"/>
<path d="M619.6 1075.5C620.9 1075.8 624.9 1077.0 627.8 1077.0C630.6 1077.1 634.4 1076.6 636.6 1075.8C638.8 1075.0 640.3 1072.9 641.0 1072.4" stroke-width="1.8" fill="none"/>
<path d="M627.1 1073.6L627.1 1063.5" stroke-width="1.8" fill="none"/>
<path d="M634.7 1073.0L634.7 1062.9" stroke-width="1.8" fill="none"/>
<path d="M627.1 1062.9L634.7 1062.3" stroke-width="3.84" fill="none"/>
<path d="M634.1 1117.2L653.0 1128.5" stroke-width="1.8" fill="none"/>
<path d="M653.0 1129.3L687.1 1120.9" stroke-width="2.64" fill="none"/>
<path d="M687.7 1118.4L694.0 1117.4" stroke-width="5.25" fill="none"/>
<path d="M600.0 1067.9C600.3 1066.9 601.1 1062.9 601.9 1061.6C602.7 1060.4 604.1 1060.4 605.0 1060.4C606.0 1060.4 607.0 1060.6 607.6 1061.6C608.1 1062.7 607.6 1065.6 608.2 1066.7C608.8 1067.7 610.6 1069.0 611.4 1067.9C612.1 1066.9 612.0 1062.0 612.6 1060.4C613.2 1058.8 614.2 1058.7 615.1 1058.5C616.1 1058.3 617.7 1058.2 618.3 1059.1C618.9 1060.1 618.8 1063.3 618.9 1064.2" stroke-width="2.16" fill="none"/>
<path d="M618.9 1064.2L637.9 1057.9" stroke-width="1.8" fill="none"/>
<path d="M600.0 1078.0L627.1 1068.6" stroke-width="1.8" fill="none"/>
<path d="M616.4 1056.6C617.7 1054.7 622.2 1048.2 624.0 1045.2C625.8 1042.3 626.6 1040.0 627.1 1038.9C627.5 1038.7 628.7 1037.6 629.7 1037.7C630.6 1037.8 632.1 1039.2 632.6 1039.6C632.1 1040.5 631.3 1042.8 629.7 1045.2C628.0 1047.7 624.5 1052.0 622.7 1054.1C620.9 1056.2 619.6 1057.2 618.9 1057.9" stroke-width="1.8" fill="none"/>
<path d="M605.0 1130.4L603.8 1128.5L603.8 1110.9C604.2 1110.5 605.5 1109.1 606.3 1109.0C607.2 1108.9 608.2 1109.1 608.8 1110.2C609.5 1111.4 609.9 1115.0 610.1 1115.9L612.6 1116.5C612.7 1115.0 612.7 1109.0 613.2 1107.1C613.8 1105.1 615.0 1104.9 615.8 1104.8C616.5 1104.7 617.4 1106.2 617.7 1106.4L618.3 1120.9L605.0 1130.4" stroke-width="2.4" fill="none"/>
<path d="M736.8 1059.5L753.3 1069.2C754.0 1069.8 757.2 1071.3 757.7 1073.0C758.3 1074.7 756.7 1078.3 756.5 1079.3C755.4 1080.8 752.7 1085.0 750.2 1088.1C747.6 1091.3 744.5 1095.0 741.3 1098.2C738.2 1101.5 732.9 1106.1 731.2 1107.7" stroke-width="1.8" fill="none"/>
<path d="M760.0 1075.5C759.2 1076.4 756.5 1078.5 755.2 1080.6C753.9 1082.7 752.5 1086.0 752.1 1088.1C751.6 1090.2 751.4 1091.7 752.7 1093.2C754.0 1094.7 758.8 1096.3 760.0 1097.0" stroke-width="1.8" fill="none"/>
<path d="M760.0 1102.0L755.2 1107.1L750.2 1114.0" stroke-width="1.8" fill="none"/>
<path d="M723.0 1115.3L736.9 1122.2L733.8 1132.3L721.8 1134.8L723.0 1115.3" stroke-width="1.8" fill="none"/>
<path d="M683.3 1134.2L718.6 1125.4L721.1 1119.7" stroke-width="1.8" fill="none"/>
<path d="M530.0 1109.2C532.1 1107.5 538.4 1102.1 542.6 1099.1C546.8 1096.2 551.0 1093.9 555.2 1091.5C559.4 1089.2 563.4 1087.2 567.9 1085.2C572.3 1083.2 579.4 1080.5 581.7 1079.6L590.6 1080.8L627.2 1068.2" stroke-width="2.16" fill="none"/>
<path d="M530.0 1135.7C533.2 1134.6 542.6 1130.6 548.9 1128.8C555.2 1127.0 561.5 1125.8 567.9 1125.0C574.2 1124.1 583.6 1123.9 586.8 1123.7" stroke-width="2.64" fill="none"/>
<path d="M586.8 1123.5L604.4 1115.5" stroke-width="2.16" fill="none"/>
<path d="M619.0 1113.0L651.1 1131.9" stroke-width="2.16" fill="none"/>
<path d="M620.9 1119.3L647.4 1134.4" stroke-width="1.8" fill="none"/>
<path d="M605.7 1130.7L619.0 1121.8" stroke-width="2.16" fill="none"/>
<path d="M586.8 1123.5L590.8 1128.1" stroke-width="1.8" fill="none"/>
<path d="M581.7 1128.1L586.8 1123.5" stroke-width="1.8" fill="none"/>
<path d="M581.7 1128.1L581.7 1139.5" stroke-width="2.16" fill="none"/>
<path d="M589.3 1128.8L589.3 1140.1" stroke-width="2.16" fill="none"/>
<path d="M598.8 1129.4L598.8 1140.8" stroke-width="2.16" fill="none"/>
<path d="M590.8 1128.1L598.8 1129.4" stroke-width="3.12" fill="none"/>
<path d="M599.4 1133.8L610.8 1135.7L630.9 1143.3" stroke-width="1.8" fill="none"/>
<path d="M633.5 1116.8L641.7 1113.0L666.9 1109.2L690.0 1119.3" stroke-width="1.8" fill="none"/>
<path d="M633.5 1116.8L656.2 1130.7L690.0 1121.8" stroke-width="1.8" fill="none"/>
<path d="M585.9 1124.4C582.5 1124.4 573.3 1123.7 565.7 1124.4C558.1 1125.2 547.8 1126.8 540.5 1128.8C533.1 1130.8 526.8 1133.5 521.5 1136.4C516.3 1139.3 512.1 1142.9 508.9 1146.5C505.8 1150.1 503.8 1154.3 502.6 1157.9C501.5 1161.4 501.4 1164.6 502.0 1167.9C502.6 1171.3 504.2 1174.9 506.4 1178.0C508.6 1181.2 511.7 1184.1 515.2 1186.9C518.8 1189.6 523.2 1192.2 527.9 1194.4C532.5 1196.7 537.5 1198.9 543.0 1200.1C548.5 1201.4 554.8 1201.9 560.7 1202.0C566.6 1202.1 572.9 1201.5 578.3 1200.8C583.8 1200.0 589.9 1198.7 593.5 1197.6C597.0 1196.6 598.7 1195.0 599.8 1194.4" stroke-width="2.88" fill="none"/>
<path d="M565.7 1127.6C561.9 1128.3 549.7 1130.1 543.0 1132.0C536.3 1133.9 530.3 1136.2 525.3 1138.9C520.4 1141.7 516.4 1145.0 513.3 1148.4C510.3 1151.8 508.2 1155.9 507.0 1159.1C505.9 1162.4 505.8 1165.0 506.4 1167.9C507.0 1170.9 508.7 1173.9 510.8 1176.8C512.9 1179.6 515.8 1182.5 519.0 1185.0C522.3 1187.5 526.2 1189.9 530.4 1191.9C534.6 1194.0 539.2 1196.0 544.3 1197.2C549.3 1198.4 555.0 1199.1 560.7 1199.2C566.3 1199.4 573.1 1198.7 578.3 1198.0C583.6 1197.3 589.9 1195.6 592.2 1195.1" stroke-width="1.8" fill="none"/>
<path d="M527.9 1162.9C528.9 1161.4 531.4 1156.7 534.2 1154.1C536.9 1151.4 540.3 1149.1 544.3 1147.1C548.3 1145.1 553.7 1143.2 558.1 1142.1C562.6 1140.9 566.1 1140.4 570.8 1140.2C575.4 1140.0 581.3 1140.3 585.9 1140.8C590.5 1141.3 594.5 1142.3 598.5 1143.3C602.5 1144.4 606.5 1145.7 609.9 1147.1C613.2 1148.6 617.2 1151.3 618.7 1152.2" stroke-width="3.12" fill="none"/>
<path d="M565.7 1138.9L565.7 1161.6" stroke-width="2.16" fill="none"/>
<path d="M569.5 1138.9L569.5 1161.6" stroke-width="2.16" fill="none"/>
<path d="M562.6 1137.7L570.8 1137.7" stroke-width="3.74" fill="none"/>
<path d="M582.1 1128.2L582.1 1140.2" stroke-width="2.16" fill="none"/>
<path d="M590.9 1130.1L590.9 1141.5" stroke-width="2.16" fill="none"/>
<path d="M598.5 1130.7L598.5 1142.1" stroke-width="2.16" fill="none"/>
<path d="M591.6 1129.5L597.9 1129.8" stroke-width="3.84" fill="none"/>
<path d="M514.0 1166.7L514.6 1179.3" stroke-width="2.16" fill="none"/>
<path d="M525.3 1165.4L526.0 1188.1" stroke-width="2.16" fill="none"/>
<path d="M515.9 1164.2L524.7 1163.5" stroke-width="4.62" fill="none"/>
<path d="M520.3 1169.2L520.3 1174.3" stroke-width="3.6" fill="none"/>
<path d="M536.7 1144.0L538.6 1149.7" stroke-width="4.4" fill="none"/>
<path d="M527.9 1162.9C527.7 1164.6 527.2 1169.6 527.2 1173.0C527.2 1176.4 527.7 1181.4 527.9 1183.1" stroke-width="1.8" fill="none"/>
<path d="M650.0 1132.0C647.5 1133.6 639.7 1137.8 635.1 1141.5C630.5 1145.1 626.5 1149.2 622.5 1154.1C618.5 1158.9 614.3 1165.2 611.1 1170.5C608.0 1175.7 605.5 1180.6 603.6 1185.6C601.7 1190.7 600.6 1197.0 599.8 1200.8C598.9 1204.5 598.7 1207.1 598.5 1208.3" stroke-width="2.88" fill="none"/>
<path d="M650.0 1136.2C647.9 1137.5 641.8 1140.8 637.6 1144.2C633.5 1147.6 628.9 1152.0 625.0 1156.6C621.1 1161.2 617.3 1166.7 614.3 1171.7C611.2 1176.8 608.6 1181.8 606.7 1186.9C604.8 1191.9 603.6 1199.5 602.9 1202.0" stroke-width="1.92" fill="none"/>
<path d="M530.4 1180.6C531.6 1179.3 534.8 1175.2 537.9 1173.0C541.1 1170.8 545.3 1168.9 549.3 1167.3C553.3 1165.7 557.5 1164.5 561.9 1163.5C566.3 1162.6 571.0 1161.9 575.8 1161.6C580.6 1161.4 586.3 1161.7 590.9 1162.3C595.6 1162.8 600.2 1163.7 603.6 1164.8C606.9 1165.8 609.9 1167.9 611.1 1168.6" stroke-width="2.4" fill="none"/>
<path d="M530.4 1180.6C532.5 1182.3 538.8 1187.9 543.0 1190.7C547.2 1193.4 553.5 1195.9 555.6 1197.0" stroke-width="2.16" fill="none"/>
<path d="M533.8 1187.1L536.2 1181.6L558.8 1192.9L557.5 1196.0L533.8 1187.1" stroke-width="1.74" fill="none"/>
<path d="M536.1 1181.7L538.7 1176.3L559.5 1187.9L558.0 1190.9L536.1 1181.7" stroke-width="1.74" fill="none"/>
<path d="M543.6 1176.2L547.0 1171.2L562.2 1183.2L560.4 1186.0L543.6 1176.2" stroke-width="1.74" fill="none"/>
<path d="M551.7 1171.5L556.1 1167.3L567.5 1181.6L565.2 1183.8L551.7 1171.5" stroke-width="1.74" fill="none"/>
<path d="M561.2 1167.8L566.2 1164.9L573.7 1180.7L570.9 1182.2L561.2 1167.8" stroke-width="1.74" fill="none"/>
<path d="M572.0 1165.8L577.6 1164.5L580.2 1180.4L576.9 1181.2L572.0 1165.8" stroke-width="1.74" fill="none"/>
<path d="M583.1 1165.0L588.5 1165.3L586.5 1180.9L583.2 1180.7L583.1 1165.0" stroke-width="1.74" fill="none"/>
<path d="M594.2 1166.1L599.5 1167.9L592.7 1182.7L589.7 1181.5L594.2 1166.1" stroke-width="1.74" fill="none"/>
<path d="M603.2 1169.0L608.0 1171.7L598.9 1184.9L596.1 1183.1L603.2 1169.0" stroke-width="1.74" fill="none"/>
<path d="M560.7 1194.4C561.1 1193.2 561.5 1188.8 563.2 1186.9C564.9 1185.0 567.8 1183.9 570.8 1183.1C573.7 1182.3 577.5 1181.8 580.9 1181.8C584.2 1181.8 588.2 1182.3 590.9 1183.1C593.7 1183.9 595.8 1185.2 597.3 1186.9C598.7 1188.6 599.4 1192.1 599.8 1193.2" stroke-width="3.6" fill="none"/>
<ellipse cx="580.9" cy="1192.6" rx="14.9" ry="6.6" transform="rotate(0 580.9 1192.6)" stroke-width="3.12" fill="none"/>
<path d="M528.4 1073.1C529.5 1072.2 533.1 1069.4 535.3 1068.0C537.5 1066.6 539.1 1065.6 541.6 1064.6C544.2 1063.6 549.0 1062.6 550.5 1062.2" stroke-width="2.88" fill="none"/>
<path d="M550.5 1062.2C552.6 1062.3 558.9 1062.3 563.1 1062.7C567.3 1063.1 571.5 1064.0 575.7 1064.6C579.9 1065.2 584.2 1065.9 588.3 1066.5C592.4 1067.1 598.3 1068.1 600.3 1068.4" stroke-width="1.8" fill="none"/>
<path d="M546.1 1064.2L546.9 1061.7L551.1 1061.2" stroke-width="1.8" fill="none"/>
<path d="M587.1 1064.2L602.2 1056.0" stroke-width="1.8" fill="none"/>
<!-- 09_deck_rest.py -->
<path d="M768.2 1115.5C767.8 1115.8 767.0 1115.7 765.7 1117.4C764.4 1119.1 762.3 1121.7 760.7 1125.6C759.0 1129.5 757.3 1134.9 755.6 1140.8C753.9 1146.6 752.0 1154.4 750.6 1160.9C749.1 1167.5 747.4 1176.7 746.8 1179.9" stroke-width="1.8" fill="none"/>
<path d="M783.4 1148.3L783.4 1179.2" stroke-width="1.8" fill="none"/>
<path d="M772.0 1179.9C773.1 1176.7 776.0 1166.6 778.3 1160.9C780.6 1155.3 783.2 1150.4 785.9 1145.8C788.6 1141.2 791.8 1137.0 794.7 1133.2C797.7 1129.4 801.0 1125.8 803.6 1123.1C806.1 1120.4 808.8 1117.8 809.9 1116.8" stroke-width="1.8" fill="none"/>
<path d="M796.0 1131.3L797.3 1132.6" stroke-width="2.4" fill="none"/>
<path d="M798.0 1129.4L799.3 1130.7" stroke-width="2.4" fill="none"/>
<path d="M800.0 1127.5L801.3 1128.8" stroke-width="2.4" fill="none"/>
<path d="M802.1 1125.6L803.3 1126.9" stroke-width="2.4" fill="none"/>
<path d="M804.1 1123.7L805.3 1125.0" stroke-width="2.4" fill="none"/>
<path d="M788.9 1049.5C787.8 1049.2 784.6 1047.9 782.6 1047.9C780.6 1047.9 779.2 1048.4 777.1 1049.5C775.0 1050.5 772.2 1052.4 770.0 1054.2C767.7 1056.0 765.6 1058.1 763.7 1060.5C761.7 1062.9 759.7 1065.6 758.1 1068.4C756.6 1071.2 755.1 1074.3 754.2 1077.1C753.3 1079.8 752.9 1082.5 752.6 1085.0C752.3 1087.5 752.3 1090.9 752.2 1092.1L759.7 1097.6" stroke-width="1.8" fill="none"/>
<path d="M772.7 1054.2L781.0 1049.5L783.0 1051.4L774.7 1056.2L772.7 1054.2" stroke-width="1.8" fill="none"/>
<path d="M788.9 1054.6C787.8 1055.2 784.8 1056.4 782.6 1058.1C780.4 1059.9 777.6 1062.7 775.5 1065.2C773.4 1067.7 771.5 1070.5 770.0 1073.1C768.4 1075.8 766.9 1078.8 766.0 1081.0C765.1 1083.2 764.7 1085.6 764.4 1086.5L761.7 1087.3L761.3 1095.2L763.7 1098.4" stroke-width="3.36" fill="none"/>
<path d="M789.3 1052.6C789.0 1053.9 788.2 1057.7 787.3 1060.5C786.5 1063.3 785.3 1066.3 784.2 1069.2C783.0 1072.1 781.5 1075.1 780.2 1077.9C778.9 1080.6 777.5 1083.1 776.3 1085.7C775.1 1088.4 774.0 1090.7 773.1 1093.6C772.2 1096.5 771.4 1100.2 770.8 1103.1C770.1 1106.0 769.4 1109.7 769.2 1111.0" stroke-width="3.12" fill="none"/>
<path d="M785.3 1069.7L788.3 1069.3L780.2 1092.2L776.3 1091.7L777.5 1076.7L783.8 1075.1L785.3 1069.7" stroke-width="1.2" fill="#3a3a3a"/>
<path d="M798.0 1053.0L778.2 1111.0" stroke-width="1.8" fill="none"/>
<path d="M795.2 1051.0L791.3 1066.0L786.5 1084.2L781.0 1111.0" stroke-width="1.8" fill="none"/>
<path d="M797.6 1065.2L799.9 1063.7L806.2 1060.5" stroke-width="1.8" fill="none"/>
<path d="M798.0 1065.4L788.9 1087.3" stroke-width="1.8" fill="none"/>
<path d="M791.3 1088.9L807.0 1079.4L807.8 1070.0" stroke-width="1.8" fill="none"/>
<path d="M814.1 1083.4L803.9 1091.3" stroke-width="1.8" fill="none"/>
<path d="M804.7 1092.8L814.9 1098.4L823.6 1090.5" stroke-width="1.8" fill="none"/>
<path d="M803.9 1091.3C803.5 1092.2 802.7 1094.8 801.5 1096.8C800.3 1098.8 798.6 1101.1 796.8 1103.1C794.9 1105.1 792.8 1107.0 790.5 1108.6C788.1 1110.2 784.6 1111.9 782.6 1112.6C780.6 1113.2 779.3 1112.6 778.6 1112.6" stroke-width="1.8" fill="none"/>
<path d="M815.7 1098.8C814.9 1099.9 812.8 1103.2 811.0 1105.5C809.1 1107.8 806.8 1110.3 804.7 1112.6C802.6 1114.8 799.4 1117.8 798.4 1118.9" stroke-width="1.8" fill="none"/>
<path d="M763.7 1097.6L770.4 1098.8L772.7 1100.7L763.7 1103.1L763.7 1097.6" stroke-width="1.2" fill="#222"/>
<path d="M750.3 1114.1L763.7 1102.3" stroke-width="2.16" fill="none"/>
<path d="M757.4 1109.4L771.5 1100.7" stroke-width="1.8" fill="none"/>
<path d="M770.4 1098.8L769.2 1109.4" stroke-width="1.8" fill="none"/>
<path d="M759.7 1097.6L749.5 1114.1" stroke-width="1.8" fill="none"/>
<path d="M763.7 1109.4L773.1 1114.1" stroke-width="1.8" fill="none"/>
<path d="M768.2 1115.5C768.9 1115.8 770.3 1116.0 772.0 1117.0C773.7 1118.0 775.6 1120.7 778.3 1121.6C781.1 1122.4 785.1 1122.9 788.4 1122.2C791.8 1121.5 795.6 1119.7 798.5 1117.4C801.5 1115.1 803.7 1111.9 806.1 1108.6C808.5 1105.2 811.9 1099.1 813.0 1097.2" stroke-width="1.8" fill="none"/>
<path d="M731.6 1107.3C733.1 1106.0 737.5 1102.2 740.5 1099.1C743.4 1096.1 746.8 1092.8 749.3 1089.0C751.8 1085.2 754.6 1078.5 755.6 1076.4" stroke-width="1.8" fill="none"/>
<path d="M737.9 1060.0L755.6 1072.0L759.4 1066.3L758.8 1060.0" stroke-width="1.8" fill="none"/>
<path d="M690.0 1133.2L719.0 1125.6L721.5 1119.3" stroke-width="1.8" fill="none"/>
<path d="M723.4 1114.9L737.3 1122.5L734.2 1133.2L722.2 1135.7L723.4 1114.9" stroke-width="1.8" fill="none"/>
<path d="M743.6 1145.8L735.4 1179.9" stroke-width="1.8" fill="none"/>
<path d="M717.8 1101.6C717.9 1103.1 719.0 1107.3 718.4 1110.5C717.8 1113.6 718.1 1118.4 714.0 1120.6C709.9 1122.8 697.2 1123.2 693.8 1123.7" stroke-width="1.8" fill="none"/>
<path d="M736.1 1180.0C735.3 1182.7 733.0 1191.1 731.6 1196.4C730.3 1201.7 729.3 1207.1 727.9 1211.5C726.4 1216.0 725.3 1218.9 722.8 1222.9C720.3 1226.9 718.2 1230.7 712.7 1235.5C707.2 1240.4 693.8 1249.2 690.0 1251.9" stroke-width="1.8" fill="none"/>
<path d="M746.2 1180.0C745.4 1182.9 743.1 1192.0 741.7 1197.7C740.4 1203.3 739.4 1209.0 737.9 1214.1C736.5 1219.1 735.0 1223.7 732.9 1227.9C730.8 1232.2 728.3 1235.8 725.3 1239.3C722.4 1242.8 721.1 1244.7 715.2 1248.8C709.3 1252.9 694.2 1261.4 690.0 1263.9" stroke-width="1.8" fill="none"/>
<path d="M773.3 1180.0L770.8 1191.4" stroke-width="1.8" fill="none"/>
<path d="M388.9 1238.7L399.0 1250.7" stroke-width="1.8" fill="none"/>
<path d="M399.0 1250.7C398.7 1253.4 397.7 1262.8 397.1 1267.1C396.6 1271.4 396.1 1275.0 395.9 1276.5" stroke-width="1.8" fill="none"/>
<path d="M452.6 1202.5C450.7 1203.9 445.6 1207.3 440.7 1210.9C435.7 1214.5 428.0 1220.3 423.0 1224.2C417.9 1228.1 413.7 1231.1 410.4 1234.3C407.0 1237.4 404.6 1240.4 402.8 1243.1C401.0 1245.8 400.2 1249.4 399.7 1250.7" stroke-width="1.8" fill="none"/>
<path d="M452.6 1202.7L420.5 1234.9" stroke-width="1.8" fill="none"/>
<path d="M420.5 1234.9C419.6 1236.0 416.8 1239.2 415.4 1241.8C414.1 1244.5 412.8 1249.2 412.3 1250.7C412.0 1252.3 411.0 1257.8 410.4 1260.8C409.7 1263.7 408.8 1267.1 408.5 1268.3" stroke-width="1.8" fill="none"/>
<path d="M452.6 1202.5C454.0 1204.2 457.8 1209.4 460.9 1212.8C463.9 1216.2 467.2 1219.7 470.9 1222.9C474.7 1226.1 478.3 1229.0 483.6 1231.7C488.8 1234.5 495.8 1237.1 502.5 1239.3C509.2 1241.5 520.4 1244.0 523.9 1245.0" stroke-width="1.8" fill="none"/>
<path d="M523.9 1245.0L494.3 1277.2" stroke-width="1.8" fill="none"/>
<path d="M420.5 1234.9C422.6 1236.9 428.9 1243.2 433.1 1246.9C437.3 1250.6 441.1 1253.8 445.7 1257.0C450.3 1260.1 455.6 1263.2 460.9 1265.8C466.1 1268.4 471.7 1270.9 477.3 1272.7C482.8 1274.6 491.5 1276.4 494.3 1277.2" stroke-width="1.8" fill="none"/>
<path d="M412.3 1251.3C414.7 1253.3 421.2 1259.2 426.8 1263.3C432.4 1267.4 439.4 1272.2 445.7 1275.9C452.0 1279.6 458.5 1282.7 464.6 1285.4C470.7 1288.0 479.4 1290.6 482.3 1291.7" stroke-width="1.8" fill="none"/>
<path d="M494.3 1277.2C493.1 1278.4 489.3 1282.2 487.4 1284.7C485.4 1287.3 483.4 1289.8 482.3 1292.3C481.3 1294.8 481.3 1298.6 481.0 1299.9" stroke-width="1.8" fill="none"/>
<path d="M440.0 1226.1L446.3 1221.0" stroke-width="3.84" fill="none"/>
<path d="M497.4 1258.9L503.8 1253.8" stroke-width="3.84" fill="none"/>
<ellipse cx="470.9" cy="1241.8" rx="1.6" ry="1.5" transform="rotate(0 470.9 1241.8)" stroke-width="1.8" fill="none"/>
<path d="M457.1 1180.0C457.7 1180.8 459.4 1183.8 460.9 1185.0C462.3 1186.3 465.1 1187.2 465.9 1187.6" stroke-width="1.8" fill="none"/>
<path d="M465.9 1187.6L474.7 1181.9L470.9 1180.0" stroke-width="1.8" fill="none"/>
<path d="M468.4 1185.7L473.5 1181.3" stroke-width="1.8" fill="none"/>
<path d="M467.2 1187.6C468.8 1189.5 473.5 1195.4 477.3 1198.9C481.0 1202.5 485.0 1205.9 489.9 1209.0C494.7 1212.2 499.6 1215.2 506.3 1217.9C513.0 1220.5 526.0 1223.6 530.0 1224.8" stroke-width="1.8" fill="none"/>
<path d="M530.0 1277.2C528.6 1278.4 523.9 1282.2 521.4 1284.7C518.9 1287.3 516.8 1289.8 515.1 1292.3C513.4 1294.8 512.0 1298.6 511.3 1299.9" stroke-width="1.8" fill="none"/>
<path d="M530.0 1197.7C532.1 1198.4 537.4 1201.0 542.6 1202.1C547.9 1203.1 555.2 1204.1 561.5 1204.0C567.9 1203.9 574.6 1202.5 580.5 1201.5C586.4 1200.4 594.1 1198.3 596.9 1197.7" stroke-width="2.16" fill="none"/>
<path d="M530.0 1224.2L537.6 1226.7L540.1 1230.5C541.6 1231.0 546.0 1233.3 548.9 1233.6C551.9 1233.9 554.6 1233.5 557.8 1232.4C560.9 1231.2 564.1 1229.0 567.9 1226.7C571.6 1224.4 576.3 1221.1 580.5 1218.5C584.7 1215.9 590.4 1212.3 593.1 1210.9C595.8 1209.5 596.2 1210.4 596.9 1210.3C597.5 1210.9 599.8 1212.2 600.7 1214.1C601.5 1216.0 602.1 1218.9 601.9 1221.6C601.7 1224.4 599.9 1228.2 599.4 1230.5C598.9 1232.8 598.9 1234.7 598.8 1235.5" stroke-width="1.8" fill="none"/>
<path d="M539.5 1228.6L546.4 1222.3L549.6 1224.2L542.6 1231.1" stroke-width="1.8" fill="none"/>
<path d="M596.9 1210.3L580.5 1224.2L555.2 1250.7L530.0 1277.2" stroke-width="1.8" fill="none"/>
<path d="M598.8 1202.7C599.1 1201.0 599.5 1196.4 600.7 1192.6C601.8 1188.8 604.9 1182.1 605.7 1180.0" stroke-width="1.8" fill="none"/>
<path d="M580.5 1244.4C581.3 1243.4 583.6 1242.0 586.8 1240.6C589.9 1239.1 596.2 1236.8 599.4 1235.5C602.6 1234.3 604.0 1233.3 605.7 1233.0C607.4 1232.7 608.7 1233.0 609.5 1233.6C610.3 1234.3 610.7 1235.6 610.8 1236.8C610.9 1237.9 611.0 1239.5 610.1 1240.6C609.3 1241.6 609.6 1242.3 605.7 1243.1C601.8 1243.9 590.8 1245.1 586.8 1245.6C582.8 1246.1 582.8 1246.5 581.7 1246.2C580.7 1246.0 579.6 1245.3 580.5 1244.4Z" stroke-width="2.16" fill="none"/>
<ellipse cx="598.8" cy="1238.7" rx="1.5" ry="1.5" transform="rotate(0 598.8 1238.7)" stroke-width="3.12" fill="none"/>
<path d="M610.1 1236.8L617.1 1233.6" stroke-width="1.8" fill="none"/>
<path d="M572.9 1258.2L574.2 1279.7C574.6 1280.1 574.6 1281.8 576.7 1282.2C578.8 1282.6 585.1 1282.0 586.8 1282.0C589.9 1281.7 598.3 1281.3 605.7 1280.3C613.1 1279.3 622.5 1277.9 630.9 1275.9C639.4 1273.9 648.8 1271.1 656.2 1268.3C663.5 1265.6 669.5 1262.2 675.1 1259.5C680.7 1256.8 687.5 1253.2 690.0 1251.9" stroke-width="1.8" fill="none"/>
<path d="M574.2 1258.9C574.0 1258.3 572.5 1257.1 572.9 1255.7C573.3 1254.3 575.0 1252.1 576.7 1250.7C578.4 1249.2 581.9 1247.5 583.0 1246.9" stroke-width="1.8" fill="none"/>
<path d="M555.2 1299.2C556.9 1298.4 561.1 1295.4 565.3 1294.2C569.5 1293.0 573.7 1292.8 580.5 1292.3C587.2 1291.8 597.3 1291.9 605.7 1291.0C614.1 1290.2 622.5 1289.1 630.9 1287.3C639.4 1285.4 648.8 1282.4 656.2 1279.7C663.5 1277.0 669.5 1273.6 675.1 1270.9C680.7 1268.1 687.5 1264.5 690.0 1263.3" stroke-width="1.8" fill="none"/>
<path d="M539.5 1299.9L548.9 1294.2L555.2 1299.2" stroke-width="1.8" fill="none"/>
<path d="M624.6 1180.0L625.3 1189.5L629.7 1186.9L629.7 1180.0" stroke-width="1.8" fill="none"/>
<path d="M450.0 1277.6L482.2 1292.5" stroke-width="1.8" fill="none"/>
<path d="M470.8 1270.0L493.5 1276.9" stroke-width="1.8" fill="none"/>
<path d="M501.7 1270.0C500.3 1271.5 495.6 1275.9 492.9 1278.8C490.2 1281.8 487.2 1284.9 485.3 1287.7C483.4 1290.4 482.4 1292.1 481.5 1295.2C480.7 1298.4 480.5 1304.7 480.3 1306.6" stroke-width="1.8" fill="none"/>
<path d="M481.5 1300.3L508.0 1306.6" stroke-width="1.8" fill="none"/>
<path d="M538.3 1270.0C536.2 1271.7 529.5 1276.7 525.7 1280.1C521.9 1283.5 518.2 1286.8 515.6 1290.2C513.0 1293.6 511.1 1296.9 509.9 1300.3C508.8 1303.6 508.9 1308.7 508.7 1310.4C509.2 1311.5 510.3 1315.7 511.8 1317.3C513.4 1318.9 517.1 1319.4 518.1 1319.8C519.0 1319.6 520.6 1319.8 523.2 1318.6C525.8 1317.3 532.1 1313.3 533.9 1312.3" stroke-width="1.8" fill="none"/>
<path d="M512.5 1306.0L573.0 1278.8" stroke-width="1.8" fill="none"/>
<path d="M574.3 1270.0L574.3 1277.6C574.8 1278.3 575.4 1281.3 577.4 1282.0C579.4 1282.7 580.9 1282.3 586.3 1282.0C591.7 1281.7 606.0 1280.4 610.0 1280.1" stroke-width="1.8" fill="none"/>
<path d="M533.9 1312.3L534.5 1305.3L549.1 1294.6L553.5 1299.7L554.1 1318.6" stroke-width="1.8" fill="none"/>
<path d="M554.7 1299.7C556.2 1299.0 560.0 1296.8 563.6 1295.9C567.1 1294.9 570.9 1294.5 576.2 1294.0C581.4 1293.4 589.5 1293.0 595.1 1292.5C600.7 1291.9 607.5 1291.1 610.0 1290.8" stroke-width="1.8" fill="none"/>
<!-- 10_deck_mid.py -->
<path d="M649.1 1133.4C651.0 1133.0 657.1 1131.2 660.5 1130.5C663.8 1129.9 667.8 1129.8 669.3 1129.7" stroke-width="2.64" fill="none"/>
<path d="M651.6 1131.8L688.2 1121.7" stroke-width="2.88" fill="none"/>
<path d="M653.5 1130.0L685.7 1120.8" stroke-width="1.44" fill="none"/>
<path d="M623.9 1168.1L623.9 1189.8" stroke-width="2.16" fill="none"/>
<path d="M630.2 1165.6L630.2 1187.1" stroke-width="2.16" fill="none"/>
<path d="M634.6 1159.3L634.6 1183.5" stroke-width="2.16" fill="none"/>
<path d="M640.3 1156.2L640.3 1180.8" stroke-width="2.16" fill="none"/>
<path d="M646.6 1146.9L646.6 1174.7" stroke-width="2.16" fill="none"/>
<path d="M651.6 1144.4L651.6 1170.7" stroke-width="2.16" fill="none"/>
<path d="M657.3 1139.4L657.3 1163.1" stroke-width="2.16" fill="none"/>
<path d="M661.7 1137.9L661.7 1159.3" stroke-width="2.16" fill="none"/>
<path d="M666.8 1134.3L666.8 1155.5" stroke-width="2.16" fill="none"/>
<path d="M671.8 1133.1L671.8 1152.4" stroke-width="2.16" fill="none"/>
<path d="M676.9 1132.2L676.9 1149.2" stroke-width="2.16" fill="none"/>
<path d="M681.9 1132.8L681.9 1146.4" stroke-width="2.16" fill="none"/>
<path d="M627.3 1168.4L627.3 1187.7" stroke-width="1.32" fill="none"/>
<path d="M623.9 1189.8L630.2 1187.1" stroke-width="2.16" fill="none"/>
<path d="M623.9 1168.1L630.2 1165.6" stroke-width="1.8" fill="none"/>
<path d="M637.6 1159.2L637.6 1181.4" stroke-width="1.32" fill="none"/>
<path d="M634.6 1183.5L640.3 1180.8" stroke-width="2.16" fill="none"/>
<path d="M634.6 1159.3L640.3 1156.2" stroke-width="1.8" fill="none"/>
<path d="M649.4 1147.2L649.4 1171.9" stroke-width="1.32" fill="none"/>
<path d="M646.6 1174.7L651.6 1170.7" stroke-width="2.16" fill="none"/>
<path d="M646.6 1146.9L651.6 1144.4" stroke-width="1.8" fill="none"/>
<path d="M659.7 1140.1L659.7 1160.4" stroke-width="1.32" fill="none"/>
<path d="M657.3 1163.1L661.7 1159.3" stroke-width="2.16" fill="none"/>
<path d="M657.3 1139.4L661.7 1137.9" stroke-width="1.8" fill="none"/>
<path d="M669.6 1135.2L669.6 1153.1" stroke-width="1.32" fill="none"/>
<path d="M666.8 1155.5L671.8 1152.4" stroke-width="2.16" fill="none"/>
<path d="M666.8 1134.3L671.8 1133.1" stroke-width="1.8" fill="none"/>
<path d="M679.7 1133.9L679.7 1147.1" stroke-width="1.32" fill="none"/>
<path d="M676.9 1149.2L681.9 1146.4" stroke-width="2.16" fill="none"/>
<path d="M676.9 1132.2L681.9 1132.8" stroke-width="1.8" fill="none"/>
<path d="M683.8 1134.7L683.8 1146.1" stroke-width="1.8" fill="none"/>
<path d="M683.8 1134.7L698.3 1131.2" stroke-width="1.8" fill="none"/>
<path d="M634.0 1149.8L641.5 1147.3" stroke-width="4.4" fill="none"/>
<path d="M649.1 1136.6L654.2 1135.3" stroke-width="4.4" fill="none"/>
<path d="M666.2 1132.2L673.1 1131.5" stroke-width="3.96" fill="none"/>
<path d="M618.8 1165.6L623.9 1163.1L624.1 1170.7L619.5 1172.2" stroke-width="3.6" fill="none"/>
<path d="M677.8 1160.3C678.0 1159.8 678.9 1157.2 679.4 1157.0C679.9 1156.9 680.5 1156.5 680.8 1159.3C681.1 1162.1 681.2 1171.4 681.3 1173.8" stroke-width="2.64" fill="none"/>
<path d="M681.2 1159.6C681.4 1159.0 682.3 1156.4 682.8 1156.3C683.3 1156.1 683.9 1155.8 684.2 1158.5C684.5 1161.3 684.6 1170.2 684.7 1172.6" stroke-width="2.64" fill="none"/>
<path d="M684.6 1158.8C684.8 1158.3 685.7 1155.7 686.2 1155.5C686.7 1155.4 687.3 1155.2 687.6 1157.8C687.9 1160.4 688.0 1169.0 688.1 1171.3" stroke-width="2.64" fill="none"/>
<path d="M688.0 1158.0C688.3 1157.5 689.1 1154.9 689.6 1154.8C690.1 1154.6 690.7 1154.5 691.0 1157.0C691.3 1159.6 691.4 1167.9 691.5 1170.0" stroke-width="2.64" fill="none"/>
<path d="M620.1 1112.6L650.4 1130.9" stroke-width="2.16" fill="none"/>
<path d="M634.0 1118.9L651.6 1130.3" stroke-width="1.8" fill="none"/>
<path d="M624.6 1181.6C623.7 1183.5 621.0 1188.4 618.9 1193.0C616.9 1197.6 614.2 1203.7 612.3 1209.1C610.4 1214.5 608.8 1220.0 607.6 1225.2C606.4 1230.3 605.6 1237.6 605.2 1240.0" stroke-width="1.8" fill="none"/>
<path d="M741.9 1150.5C742.1 1149.2 743.4 1145.0 743.1 1142.9C742.8 1140.8 740.5 1138.7 740.0 1137.8C738.5 1137.2 734.5 1134.1 731.1 1133.8C727.8 1133.6 725.9 1134.4 719.8 1136.3C713.7 1138.2 700.4 1143.2 694.6 1145.2C688.9 1147.2 688.3 1147.3 685.2 1148.5C682.0 1149.7 679.5 1150.1 675.7 1152.3C671.9 1154.5 666.9 1158.0 662.5 1161.8C658.0 1165.6 653.3 1170.4 649.2 1175.0C645.1 1179.6 641.3 1184.0 637.9 1189.2C634.4 1194.4 631.1 1200.6 628.4 1206.2C625.7 1211.9 623.6 1217.7 621.8 1223.3C620.0 1228.9 618.1 1238.4 617.5 1240.0C616.9 1241.7 618.2 1234.2 618.3 1233.0C617.9 1234.5 617.1 1239.7 615.8 1241.8C614.5 1243.9 611.6 1245.0 610.8 1245.6" stroke-width="1.8" fill="none"/>
<path d="M741.9 1148.0L720.0 1153.7L704.1 1157.5L689.9 1161.3C688.2 1162.2 682.5 1165.2 679.5 1167.0C676.5 1168.8 675.1 1169.6 671.9 1172.2C668.8 1174.8 664.4 1178.6 660.6 1182.6C656.8 1186.5 652.7 1191.3 649.2 1195.8C645.7 1200.4 642.6 1205.1 639.8 1210.0C636.9 1214.9 634.2 1220.2 632.2 1225.2C630.1 1230.2 628.1 1237.3 627.4 1240.0C626.8 1242.8 628.3 1241.5 628.4 1241.8C627.6 1243.1 625.5 1247.4 623.4 1249.4C621.3 1251.4 619.6 1252.7 615.8 1253.8C612.0 1255.0 606.1 1255.7 600.7 1256.3C595.2 1257.0 587.4 1257.2 583.0 1257.6C578.6 1258.0 575.6 1258.6 574.2 1258.9" stroke-width="1.8" fill="none"/>
<!-- 11_badge.py -->
<path d="M366.1 1292.7L355.7 1303.8L419.4 1340.2L427.9 1328.7L366.1 1292.7" stroke-width="2.52" fill="none"/>
<path d="M408.3 1318.2L425.0 1328.3L419.7 1335.9" stroke-width="1.08" fill="none"/>
<ellipse cx="395.7" cy="1312.3" rx="10.3" ry="9.1" transform="rotate(20 395.7 1312.3)" stroke-width="3.6" fill="#fdfffc"/>
<g transform="translate(366.3 1303.5) rotate(30.2) skewX(-18)"><text x="0" y="0" font-size="7.8" style="font-weight:bold;stroke:#000;stroke-width:0.9px" textLength="21" lengthAdjust="spacingAndGlyphs">WOLF</text></g>
<g transform="translate(398.0 1322.8) rotate(30.2) skewX(-18)"><text x="0" y="0" font-size="7.8" style="font-weight:bold;stroke:#000;stroke-width:0.9px" textLength="25" lengthAdjust="spacingAndGlyphs">Garten</text></g>
<!-- 12_watermark.py -->
<text class="ws" x="1109.4" y="1786.1" style="fill:#999" opacity="0.5">motoruf</text>
<text class="ws" x="1108.4" y="1785.1"><tspan fill="#4a6eb5">m</tspan><tspan fill="#4aa54a">o</tspan><tspan fill="#e870b0">t</tspan><tspan fill="#2e9e4e">o</tspan><tspan fill="#e85820">r</tspan><tspan fill="#f0a020">u</tspan><tspan fill="#f0c820">f</tspan></text>
<text class="wd" x="1237.3" y="1785.1">.de</text>
<circle cx="1241.6" cy="1759.8" r="0.8" fill="#888" stroke="none"/>
</svg>

</body></html>
